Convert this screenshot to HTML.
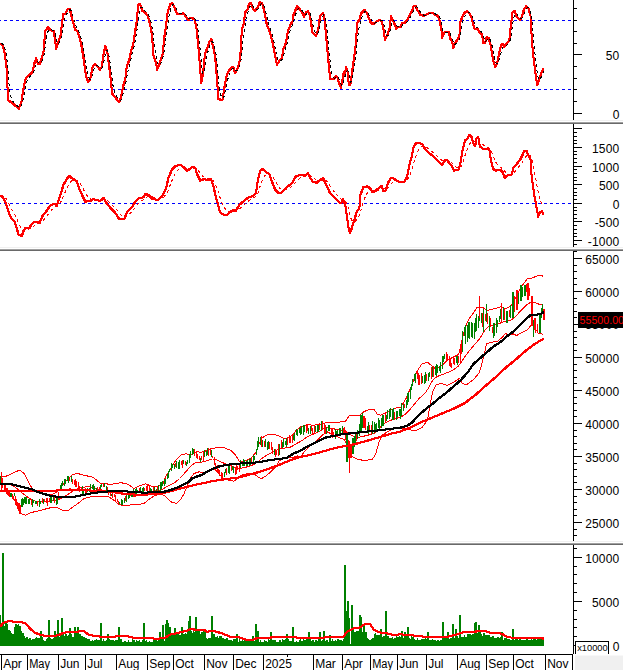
<!DOCTYPE html>
<html><head><meta charset="utf-8"><title>Chart</title>
<style>html,body{margin:0;padding:0;background:#fff}svg{display:block}text{font-family:"Liberation Sans",Arial,sans-serif}</style>
</head><body>
<svg width="623" height="670" viewBox="0 0 623 670" shape-rendering="crispEdges">
<rect width="623" height="670" fill="#fff"/>
<path d="M0,20.5 H571" stroke="#0000ff" stroke-width="1" stroke-dasharray="3,3" stroke-dashoffset="2" fill="none"/>
<path d="M0,89.5 H571" stroke="#0000ff" stroke-width="1" stroke-dasharray="3,3" stroke-dashoffset="2" fill="none"/>
<path d="M-0.5,43.0 L1.5,43.8 L3.7,49.7 L5.9,64.7 L7.0,86.5 L7.9,99.8 L11.2,102.3 L14.5,104.9 L18.2,108.2 L20.9,101.5 L22.9,88.1 L25.4,77.3 L28.8,74.8 L32.1,71.4 L33.8,63.0 L35.5,58.4 L37.6,63.0 L39.6,63.0 L43.0,51.3 L44.7,30.4 L47.7,26.6 L49.7,29.6 L53.0,30.4 L54.7,39.6 L55.5,49.3 L57.2,43.0 L60.0,35.5 L62.7,13.7 L65.1,12.9 L67.2,8.2 L69.4,8.7 L71.4,17.9 L74.8,29.3 L77.3,31.3 L80.6,43.0 L83.1,58.0 L85.6,76.4 L87.8,81.4 L89.8,78.1 L92.3,65.6 L94.8,63.9 L97.3,66.4 L99.5,68.9 L101.2,66.4 L103.2,53.0 L104.9,45.5 L107.0,53.0 L108.7,66.4 L110.4,79.8 L111.5,93.1 L114.6,96.5 L117.1,99.8 L118.7,101.8 L120.4,96.5 L122.9,84.8 L124.9,78.1 L126.3,65.6 L128.8,59.7 L130.4,50.5 L132.9,43.0 L134.6,31.3 L136.6,17.9 L137.6,4.5 L139.6,3.2 L141.6,10.4 L144.7,12.0 L147.2,15.4 L149.7,24.6 L151.3,32.9 L153.0,54.7 L155.5,63.0 L156.7,68.1 L158.9,63.9 L162.2,53.0 L163.9,36.3 L165.6,24.6 L167.2,11.2 L169.7,3.7 L171.7,2.5 L173.9,7.0 L176.8,13.7 L179.8,13.2 L183.1,12.9 L185.6,16.2 L187.8,19.9 L189.8,17.1 L192.3,17.9 L194.5,19.6 L196.2,29.6 L198.2,49.7 L199.8,69.7 L200.7,83.1 L202.5,73.1 L204.5,53.0 L207.0,47.2 L208.7,41.3 L210.9,38.8 L212.9,48.0 L214.5,54.7 L216.2,74.8 L217.9,98.2 L220.4,99.5 L222.1,99.0 L223.7,88.1 L226.3,74.8 L228.8,69.7 L231.3,66.4 L232.9,67.2 L234.6,72.2 L237.1,68.1 L239.6,58.9 L241.3,29.6 L243.3,22.9 L244.7,12.0 L247.2,8.7 L248.3,3.2 L250.5,2.8 L252.7,8.7 L254.7,10.4 L257.2,7.0 L259.4,1.5 L261.7,2.8 L263.9,11.2 L266.4,24.6 L269.4,31.3 L272.2,43.0 L274.8,56.4 L276.4,63.9 L278.9,60.5 L281.4,57.2 L282.8,48.8 L285.6,42.1 L287.3,31.3 L289.8,24.6 L292.3,20.4 L293.1,13.7 L296.5,6.2 L299.8,9.5 L301.5,12.0 L303.7,16.2 L305.4,12.0 L307.5,10.4 L309.5,15.4 L312.0,32.1 L315.4,35.5 L317.6,29.6 L319.6,15.4 L322.6,12.5 L324.2,19.6 L326.3,43.0 L328.3,64.7 L329.6,78.1 L332.9,78.9 L335.5,75.6 L337.1,77.3 L338.8,83.9 L340.5,87.3 L342.1,78.1 L343.3,71.4 L344.3,76.4 L345.5,66.4 L347.2,71.4 L348.3,83.9 L349.7,84.8 L351.0,76.4 L352.7,63.0 L354.7,49.7 L356.0,32.9 L356.7,22.1 L358.9,19.6 L360.5,12.9 L363.9,9.5 L366.1,12.0 L368.1,17.1 L370.6,22.9 L373.1,23.2 L376.4,20.9 L378.9,19.6 L381.4,20.4 L383.1,29.6 L384.5,38.8 L386.5,35.5 L389.0,27.9 L390.6,16.2 L393.1,21.2 L395.7,27.9 L398.2,26.3 L400.0,26.8 L401.5,22.1 L403.7,22.9 L406.2,20.4 L408.7,15.4 L411.2,11.2 L412.9,6.2 L414.9,4.9 L417.1,9.9 L419.9,14.2 L422.9,15.4 L426.3,13.7 L429.6,12.5 L432.6,12.9 L435.5,14.6 L437.6,15.4 L439.3,21.2 L441.0,30.4 L441.6,36.3 L443.8,32.1 L446.3,31.3 L448.3,31.6 L449.7,38.0 L451.7,41.3 L452.7,48.3 L454.3,43.0 L457.2,38.8 L458.9,35.5 L460.0,21.2 L462.2,15.4 L464.4,12.0 L466.4,10.9 L468.9,12.9 L471.1,17.1 L472.7,24.6 L474.4,28.8 L476.8,27.6 L478.9,31.3 L481.4,33.8 L482.8,42.1 L484.8,42.1 L486.1,36.3 L488.1,37.6 L489.8,43.0 L491.8,54.7 L493.5,63.0 L494.8,66.4 L496.8,62.2 L499.0,51.3 L500.7,44.7 L502.1,43.3 L503.7,46.3 L506.3,43.0 L508.8,39.6 L510.4,24.6 L512.1,11.2 L514.3,10.9 L516.3,16.2 L519.6,19.2 L521.3,16.2 L523.3,9.5 L525.5,5.9 L528.0,7.9 L530.0,15.4 L531.0,32.9 L532.2,49.7 L533.8,63.0 L535.5,76.4 L536.7,84.8 L538.4,79.8 L540.5,73.1 L542.7,68.1M0.5,43.0 L2.5,43.8 L4.7,49.7 L6.9,64.7 L8.0,86.5 L8.9,99.8 L12.2,102.3 L15.5,104.9 L19.2,108.2 L21.9,101.5 L23.9,88.1 L26.4,77.3 L29.8,74.8 L33.1,71.4 L34.8,63.0 L36.5,58.4 L38.6,63.0 L40.6,63.0 L44.0,51.3 L45.7,30.4 L48.7,26.6 L50.7,29.6 L54.0,30.4 L55.7,39.6 L56.5,49.3 L58.2,43.0 L61.0,35.5 L63.7,13.7 L66.1,12.9 L68.2,8.2 L70.4,8.7 L72.4,17.9 L75.8,29.3 L78.3,31.3 L81.6,43.0 L84.1,58.0 L86.6,76.4 L88.8,81.4 L90.8,78.1 L93.3,65.6 L95.8,63.9 L98.3,66.4 L100.5,68.9 L102.2,66.4 L104.2,53.0 L105.9,45.5 L108.0,53.0 L109.7,66.4 L111.4,79.8 L112.5,93.1 L115.6,96.5 L118.1,99.8 L119.7,101.8 L121.4,96.5 L123.9,84.8 L125.9,78.1 L127.3,65.6 L129.8,59.7 L131.4,50.5 L133.9,43.0 L135.6,31.3 L137.6,17.9 L138.6,4.5 L140.6,3.2 L142.6,10.4 L145.7,12.0 L148.2,15.4 L150.7,24.6 L152.3,32.9 L154.0,54.7 L156.5,63.0 L157.7,68.1 L159.9,63.9 L163.2,53.0 L164.9,36.3 L166.6,24.6 L168.2,11.2 L170.7,3.7 L172.7,2.5 L174.9,7.0 L177.8,13.7 L180.8,13.2 L184.1,12.9 L186.6,16.2 L188.8,19.9 L190.8,17.1 L193.3,17.9 L195.5,19.6 L197.2,29.6 L199.2,49.7 L200.8,69.7 L201.7,83.1 L203.5,73.1 L205.5,53.0 L208.0,47.2 L209.7,41.3 L211.9,38.8 L213.9,48.0 L215.5,54.7 L217.2,74.8 L218.9,98.2 L221.4,99.5 L223.1,99.0 L224.7,88.1 L227.3,74.8 L229.8,69.7 L232.3,66.4 L233.9,67.2 L235.6,72.2 L238.1,68.1 L240.6,58.9 L242.3,29.6 L244.3,22.9 L245.7,12.0 L248.2,8.7 L249.3,3.2 L251.5,2.8 L253.7,8.7 L255.7,10.4 L258.2,7.0 L260.4,1.5 L262.7,2.8 L264.9,11.2 L267.4,24.6 L270.4,31.3 L273.2,43.0 L275.8,56.4 L277.4,63.9 L279.9,60.5 L282.4,57.2 L283.8,48.8 L286.6,42.1 L288.3,31.3 L290.8,24.6 L293.3,20.4 L294.1,13.7 L297.5,6.2 L300.8,9.5 L302.5,12.0 L304.7,16.2 L306.4,12.0 L308.5,10.4 L310.5,15.4 L313.0,32.1 L316.4,35.5 L318.6,29.6 L320.6,15.4 L323.6,12.5 L325.2,19.6 L327.3,43.0 L329.3,64.7 L330.6,78.1 L333.9,78.9 L336.5,75.6 L338.1,77.3 L339.8,83.9 L341.5,87.3 L343.1,78.1 L344.3,71.4 L345.3,76.4 L346.5,66.4 L348.2,71.4 L349.3,83.9 L350.7,84.8 L352.0,76.4 L353.7,63.0 L355.7,49.7 L357.0,32.9 L357.7,22.1 L359.9,19.6 L361.5,12.9 L364.9,9.5 L367.1,12.0 L369.1,17.1 L371.6,22.9 L374.1,23.2 L377.4,20.9 L379.9,19.6 L382.4,20.4 L384.1,29.6 L385.5,38.8 L387.5,35.5 L390.0,27.9 L391.6,16.2 L394.1,21.2 L396.7,27.9 L399.2,26.3 L401.0,26.8 L402.5,22.1 L404.7,22.9 L407.2,20.4 L409.7,15.4 L412.2,11.2 L413.9,6.2 L415.9,4.9 L418.1,9.9 L420.9,14.2 L423.9,15.4 L427.3,13.7 L430.6,12.5 L433.6,12.9 L436.5,14.6 L438.6,15.4 L440.3,21.2 L442.0,30.4 L442.6,36.3 L444.8,32.1 L447.3,31.3 L449.3,31.6 L450.7,38.0 L452.7,41.3 L453.7,48.3 L455.3,43.0 L458.2,38.8 L459.9,35.5 L461.0,21.2 L463.2,15.4 L465.4,12.0 L467.4,10.9 L469.9,12.9 L472.1,17.1 L473.7,24.6 L475.4,28.8 L477.8,27.6 L479.9,31.3 L482.4,33.8 L483.8,42.1 L485.8,42.1 L487.1,36.3 L489.1,37.6 L490.8,43.0 L492.8,54.7 L494.5,63.0 L495.8,66.4 L497.8,62.2 L500.0,51.3 L501.7,44.7 L503.1,43.3 L504.7,46.3 L507.3,43.0 L509.8,39.6 L511.4,24.6 L513.1,11.2 L515.3,10.9 L517.3,16.2 L520.6,19.2 L522.3,16.2 L524.3,9.5 L526.5,5.9 L529.0,7.9 L531.0,15.4 L532.0,32.9 L533.2,49.7 L534.8,63.0 L536.5,76.4 L537.7,84.8 L539.4,79.8 L541.5,73.1 L543.7,68.1M-0.5,44.0 L1.5,44.8 L3.7,50.7 L5.9,65.7 L7.0,87.5 L7.9,100.8 L11.2,103.3 L14.5,105.9 L18.2,109.2 L20.9,102.5 L22.9,89.1 L25.4,78.3 L28.8,75.8 L32.1,72.4 L33.8,64.0 L35.5,59.4 L37.6,64.0 L39.6,64.0 L43.0,52.3 L44.7,31.4 L47.7,27.6 L49.7,30.6 L53.0,31.4 L54.7,40.6 L55.5,50.3 L57.2,44.0 L60.0,36.5 L62.7,14.7 L65.1,13.9 L67.2,9.2 L69.4,9.7 L71.4,18.9 L74.8,30.3 L77.3,32.3 L80.6,44.0 L83.1,59.0 L85.6,77.4 L87.8,82.4 L89.8,79.1 L92.3,66.6 L94.8,64.9 L97.3,67.4 L99.5,69.9 L101.2,67.4 L103.2,54.0 L104.9,46.5 L107.0,54.0 L108.7,67.4 L110.4,80.8 L111.5,94.1 L114.6,97.5 L117.1,100.8 L118.7,102.8 L120.4,97.5 L122.9,85.8 L124.9,79.1 L126.3,66.6 L128.8,60.7 L130.4,51.5 L132.9,44.0 L134.6,32.3 L136.6,18.9 L137.6,5.5 L139.6,4.2 L141.6,11.4 L144.7,13.0 L147.2,16.4 L149.7,25.6 L151.3,33.9 L153.0,55.7 L155.5,64.0 L156.7,69.1 L158.9,64.9 L162.2,54.0 L163.9,37.3 L165.6,25.6 L167.2,12.2 L169.7,4.7 L171.7,3.5 L173.9,8.0 L176.8,14.7 L179.8,14.2 L183.1,13.9 L185.6,17.2 L187.8,20.9 L189.8,18.1 L192.3,18.9 L194.5,20.6 L196.2,30.6 L198.2,50.7 L199.8,70.7 L200.7,84.1 L202.5,74.1 L204.5,54.0 L207.0,48.2 L208.7,42.3 L210.9,39.8 L212.9,49.0 L214.5,55.7 L216.2,75.8 L217.9,99.2 L220.4,100.5 L222.1,100.0 L223.7,89.1 L226.3,75.8 L228.8,70.7 L231.3,67.4 L232.9,68.2 L234.6,73.2 L237.1,69.1 L239.6,59.9 L241.3,30.6 L243.3,23.9 L244.7,13.0 L247.2,9.7 L248.3,4.2 L250.5,3.8 L252.7,9.7 L254.7,11.4 L257.2,8.0 L259.4,2.5 L261.7,3.8 L263.9,12.2 L266.4,25.6 L269.4,32.3 L272.2,44.0 L274.8,57.4 L276.4,64.9 L278.9,61.5 L281.4,58.2 L282.8,49.8 L285.6,43.1 L287.3,32.3 L289.8,25.6 L292.3,21.4 L293.1,14.7 L296.5,7.2 L299.8,10.5 L301.5,13.0 L303.7,17.2 L305.4,13.0 L307.5,11.4 L309.5,16.4 L312.0,33.1 L315.4,36.5 L317.6,30.6 L319.6,16.4 L322.6,13.5 L324.2,20.6 L326.3,44.0 L328.3,65.7 L329.6,79.1 L332.9,79.9 L335.5,76.6 L337.1,78.3 L338.8,84.9 L340.5,88.3 L342.1,79.1 L343.3,72.4 L344.3,77.4 L345.5,67.4 L347.2,72.4 L348.3,84.9 L349.7,85.8 L351.0,77.4 L352.7,64.0 L354.7,50.7 L356.0,33.9 L356.7,23.1 L358.9,20.6 L360.5,13.9 L363.9,10.5 L366.1,13.0 L368.1,18.1 L370.6,23.9 L373.1,24.2 L376.4,21.9 L378.9,20.6 L381.4,21.4 L383.1,30.6 L384.5,39.8 L386.5,36.5 L389.0,28.9 L390.6,17.2 L393.1,22.2 L395.7,28.9 L398.2,27.3 L400.0,27.8 L401.5,23.1 L403.7,23.9 L406.2,21.4 L408.7,16.4 L411.2,12.2 L412.9,7.2 L414.9,5.9 L417.1,10.9 L419.9,15.2 L422.9,16.4 L426.3,14.7 L429.6,13.5 L432.6,13.9 L435.5,15.6 L437.6,16.4 L439.3,22.2 L441.0,31.4 L441.6,37.3 L443.8,33.1 L446.3,32.3 L448.3,32.6 L449.7,39.0 L451.7,42.3 L452.7,49.3 L454.3,44.0 L457.2,39.8 L458.9,36.5 L460.0,22.2 L462.2,16.4 L464.4,13.0 L466.4,11.9 L468.9,13.9 L471.1,18.1 L472.7,25.6 L474.4,29.8 L476.8,28.6 L478.9,32.3 L481.4,34.8 L482.8,43.1 L484.8,43.1 L486.1,37.3 L488.1,38.6 L489.8,44.0 L491.8,55.7 L493.5,64.0 L494.8,67.4 L496.8,63.2 L499.0,52.3 L500.7,45.7 L502.1,44.3 L503.7,47.3 L506.3,44.0 L508.8,40.6 L510.4,25.6 L512.1,12.2 L514.3,11.9 L516.3,17.2 L519.6,20.2 L521.3,17.2 L523.3,10.5 L525.5,6.9 L528.0,8.9 L530.0,16.4 L531.0,33.9 L532.2,50.7 L533.8,64.0 L535.5,77.4 L536.7,85.8 L538.4,80.8 L540.5,74.1 L542.7,69.1M0.5,44.0 L2.5,44.8 L4.7,50.7 L6.9,65.7 L8.0,87.5 L8.9,100.8 L12.2,103.3 L15.5,105.9 L19.2,109.2 L21.9,102.5 L23.9,89.1 L26.4,78.3 L29.8,75.8 L33.1,72.4 L34.8,64.0 L36.5,59.4 L38.6,64.0 L40.6,64.0 L44.0,52.3 L45.7,31.4 L48.7,27.6 L50.7,30.6 L54.0,31.4 L55.7,40.6 L56.5,50.3 L58.2,44.0 L61.0,36.5 L63.7,14.7 L66.1,13.9 L68.2,9.2 L70.4,9.7 L72.4,18.9 L75.8,30.3 L78.3,32.3 L81.6,44.0 L84.1,59.0 L86.6,77.4 L88.8,82.4 L90.8,79.1 L93.3,66.6 L95.8,64.9 L98.3,67.4 L100.5,69.9 L102.2,67.4 L104.2,54.0 L105.9,46.5 L108.0,54.0 L109.7,67.4 L111.4,80.8 L112.5,94.1 L115.6,97.5 L118.1,100.8 L119.7,102.8 L121.4,97.5 L123.9,85.8 L125.9,79.1 L127.3,66.6 L129.8,60.7 L131.4,51.5 L133.9,44.0 L135.6,32.3 L137.6,18.9 L138.6,5.5 L140.6,4.2 L142.6,11.4 L145.7,13.0 L148.2,16.4 L150.7,25.6 L152.3,33.9 L154.0,55.7 L156.5,64.0 L157.7,69.1 L159.9,64.9 L163.2,54.0 L164.9,37.3 L166.6,25.6 L168.2,12.2 L170.7,4.7 L172.7,3.5 L174.9,8.0 L177.8,14.7 L180.8,14.2 L184.1,13.9 L186.6,17.2 L188.8,20.9 L190.8,18.1 L193.3,18.9 L195.5,20.6 L197.2,30.6 L199.2,50.7 L200.8,70.7 L201.7,84.1 L203.5,74.1 L205.5,54.0 L208.0,48.2 L209.7,42.3 L211.9,39.8 L213.9,49.0 L215.5,55.7 L217.2,75.8 L218.9,99.2 L221.4,100.5 L223.1,100.0 L224.7,89.1 L227.3,75.8 L229.8,70.7 L232.3,67.4 L233.9,68.2 L235.6,73.2 L238.1,69.1 L240.6,59.9 L242.3,30.6 L244.3,23.9 L245.7,13.0 L248.2,9.7 L249.3,4.2 L251.5,3.8 L253.7,9.7 L255.7,11.4 L258.2,8.0 L260.4,2.5 L262.7,3.8 L264.9,12.2 L267.4,25.6 L270.4,32.3 L273.2,44.0 L275.8,57.4 L277.4,64.9 L279.9,61.5 L282.4,58.2 L283.8,49.8 L286.6,43.1 L288.3,32.3 L290.8,25.6 L293.3,21.4 L294.1,14.7 L297.5,7.2 L300.8,10.5 L302.5,13.0 L304.7,17.2 L306.4,13.0 L308.5,11.4 L310.5,16.4 L313.0,33.1 L316.4,36.5 L318.6,30.6 L320.6,16.4 L323.6,13.5 L325.2,20.6 L327.3,44.0 L329.3,65.7 L330.6,79.1 L333.9,79.9 L336.5,76.6 L338.1,78.3 L339.8,84.9 L341.5,88.3 L343.1,79.1 L344.3,72.4 L345.3,77.4 L346.5,67.4 L348.2,72.4 L349.3,84.9 L350.7,85.8 L352.0,77.4 L353.7,64.0 L355.7,50.7 L357.0,33.9 L357.7,23.1 L359.9,20.6 L361.5,13.9 L364.9,10.5 L367.1,13.0 L369.1,18.1 L371.6,23.9 L374.1,24.2 L377.4,21.9 L379.9,20.6 L382.4,21.4 L384.1,30.6 L385.5,39.8 L387.5,36.5 L390.0,28.9 L391.6,17.2 L394.1,22.2 L396.7,28.9 L399.2,27.3 L401.0,27.8 L402.5,23.1 L404.7,23.9 L407.2,21.4 L409.7,16.4 L412.2,12.2 L413.9,7.2 L415.9,5.9 L418.1,10.9 L420.9,15.2 L423.9,16.4 L427.3,14.7 L430.6,13.5 L433.6,13.9 L436.5,15.6 L438.6,16.4 L440.3,22.2 L442.0,31.4 L442.6,37.3 L444.8,33.1 L447.3,32.3 L449.3,32.6 L450.7,39.0 L452.7,42.3 L453.7,49.3 L455.3,44.0 L458.2,39.8 L459.9,36.5 L461.0,22.2 L463.2,16.4 L465.4,13.0 L467.4,11.9 L469.9,13.9 L472.1,18.1 L473.7,25.6 L475.4,29.8 L477.8,28.6 L479.9,32.3 L482.4,34.8 L483.8,43.1 L485.8,43.1 L487.1,37.3 L489.1,38.6 L490.8,44.0 L492.8,55.7 L494.5,64.0 L495.8,67.4 L497.8,63.2 L500.0,52.3 L501.7,45.7 L503.1,44.3 L504.7,47.3 L507.3,44.0 L509.8,40.6 L511.4,25.6 L513.1,12.2 L515.3,11.9 L517.3,17.2 L520.6,20.2 L522.3,17.2 L524.3,10.5 L526.5,6.9 L529.0,8.9 L531.0,16.4 L532.0,33.9 L533.2,50.7 L534.8,64.0 L536.5,77.4 L537.7,85.8 L539.4,80.8 L541.5,74.1 L543.7,69.1" stroke="#ff0000" stroke-width="1" fill="none"/>
<path d="M0.7,43.5 L1.7,43.7 L2.7,44.0 L3.7,45.5 L4.7,47.6 L5.7,51.6 L6.7,57.0 L7.7,67.1 L8.7,80.7 L9.7,90.7 L10.7,96.1 L11.7,99.2 L12.7,101.1 L13.7,102.5 L14.7,103.5 L15.7,104.5 L16.7,105.4 L17.7,106.3 L18.7,107.2 L19.7,107.6 L20.7,106.5 L21.7,104.8 L22.7,101.4 L23.7,96.3 L24.7,91.2 L25.7,86.4 L26.7,82.1 L27.7,79.5 L28.7,77.9 L29.7,76.7 L30.7,75.6 L31.7,74.6 L32.7,73.6 L33.7,71.7 L34.7,68.4 L35.7,65.0 L36.7,61.9 L37.7,61.5 L38.7,62.4 L39.7,62.9 L40.7,63.2 L41.7,61.8 L42.7,59.4 L43.7,56.5 L44.7,51.1 L45.7,42.2 L46.7,36.0 L47.7,32.3 L48.7,29.8 L49.7,29.1 L50.7,29.4 L51.7,29.9 L52.7,30.2 L53.7,30.5 L54.7,32.0 L55.7,35.5 L56.7,42.7 L57.7,44.4 L58.7,43.5 L59.7,41.8 L60.7,39.6 L61.7,35.8 L62.7,29.8 L63.7,22.8 L64.7,18.4 L65.7,16.0 L66.7,14.2 L67.7,12.3 L68.7,10.5 L69.7,9.8 L70.7,9.7 L71.7,12.0 L72.7,15.4 L73.7,18.7 L74.7,22.1 L75.7,25.4 L76.7,27.9 L77.7,29.5 L78.7,31.0 L79.7,33.5 L80.7,36.6 L81.7,39.9 L82.7,44.4 L83.7,49.6 L84.7,55.5 L85.7,62.2 L86.7,69.2 L87.7,74.1 L88.7,77.6 L89.7,79.2 L90.7,79.1 L91.7,77.1 L92.7,73.6 L93.7,69.8 L94.7,67.5 L95.7,66.1 L96.7,65.6 L97.7,65.8 L98.7,66.5 L99.7,67.4 L100.7,68.4 L101.7,68.2 L102.7,66.5 L103.7,62.4 L104.7,57.3 L105.7,52.5 L106.7,50.3 L107.7,51.0 L108.7,54.2 L109.7,59.8 L110.7,66.5 L111.7,74.0 L112.7,83.8 L113.7,89.2 L114.7,92.5 L115.7,94.7 L116.7,96.4 L117.7,98.0 L118.7,99.4 L119.7,100.7 L120.7,100.3 L121.7,98.4 L122.7,95.1 L123.7,91.1 L124.7,87.2 L125.7,83.6 L126.7,78.4 L127.7,72.0 L128.7,67.6 L129.7,64.3 L130.7,60.2 L131.7,55.5 L132.7,51.6 L133.7,48.1 L134.7,43.8 L135.7,38.1 L136.7,31.9 L137.7,25.5 L138.7,15.9 L139.7,10.2 L140.7,7.0 L141.7,7.0 L142.7,8.7 L143.7,10.1 L144.7,11.0 L145.7,11.7 L146.7,12.6 L147.7,13.8 L148.7,15.4 L149.7,18.0 L150.7,21.2 L151.7,25.2 L152.7,30.6 L153.7,39.7 L154.7,48.3 L155.7,54.2 L156.7,58.9 L157.7,63.3 L158.7,65.2 L159.7,65.2 L160.7,63.8 L161.7,61.5 L162.7,58.6 L163.7,54.6 L164.7,47.7 L165.7,40.2 L166.7,33.0 L167.7,25.3 L168.7,18.0 L169.7,12.9 L170.7,8.9 L171.7,6.3 L172.7,4.7 L173.7,4.7 L174.7,5.7 L175.7,7.3 L176.7,9.2 L177.7,11.4 L178.7,12.7 L179.7,13.3 L180.7,13.5 L181.7,13.6 L182.7,13.6 L183.7,13.5 L184.7,13.7 L185.7,14.5 L186.7,15.5 L187.7,16.9 L188.7,18.4 L189.7,18.9 L190.7,18.5 L191.7,18.1 L192.7,18.1 L193.7,18.3 L194.7,18.8 L195.7,19.5 L196.7,22.7 L197.7,27.9 L198.7,35.5 L199.7,44.7 L200.7,55.6 L201.7,68.1 L202.7,73.6 L203.7,73.6 L204.7,68.6 L205.7,61.0 L206.7,56.1 L207.7,52.5 L208.7,49.2 L209.7,45.9 L210.7,43.4 L211.7,41.6 L212.7,41.8 L213.7,44.2 L214.7,47.6 L215.7,51.4 L216.7,59.2 L217.7,69.3 L218.7,81.3 L219.7,90.1 L220.7,94.8 L221.7,97.4 L222.7,98.5 L223.7,97.7 L224.7,93.8 L225.7,89.2 L226.7,84.3 L227.7,79.6 L228.7,76.2 L229.7,73.5 L230.7,71.4 L231.7,69.7 L232.7,68.3 L233.7,67.9 L234.7,68.7 L235.7,70.5 L236.7,70.9 L237.7,70.2 L238.7,68.7 L239.7,66.1 L240.7,62.9 L241.7,53.4 L242.7,41.4 L243.7,33.7 L244.7,27.8 L245.7,20.9 L246.7,16.2 L247.7,13.2 L248.7,10.4 L249.7,7.0 L250.7,5.3 L251.7,4.3 L252.7,5.1 L253.7,6.9 L254.7,8.4 L255.7,9.6 L256.7,9.7 L257.7,9.1 L258.7,7.9 L259.7,6.1 L260.7,4.1 L261.7,3.3 L262.7,3.3 L263.7,4.8 L264.7,7.5 L265.7,11.2 L266.7,15.7 L267.7,20.5 L268.7,24.0 L269.7,26.9 L270.7,29.6 L271.7,33.0 L272.7,36.8 L273.7,40.9 L274.7,45.6 L275.7,50.5 L276.7,55.3 L277.7,59.8 L278.7,61.3 L279.7,61.4 L280.7,60.8 L281.7,59.9 L282.7,58.5 L283.7,54.8 L284.7,51.2 L285.7,48.2 L286.7,45.5 L287.7,41.2 L288.7,36.2 L289.7,32.4 L290.7,29.2 L291.7,26.5 L292.7,24.4 L293.7,21.8 L294.7,17.6 L295.7,14.3 L296.7,11.6 L297.7,9.2 L298.7,8.4 L299.7,8.6 L300.7,9.1 L301.7,10.1 L302.7,11.3 L303.7,12.8 L304.7,14.6 L305.7,14.7 L306.7,13.5 L307.7,12.6 L308.7,11.8 L309.7,12.6 L310.7,14.2 L311.7,18.4 L312.7,23.8 L313.7,28.5 L314.7,31.3 L315.7,33.2 L316.7,34.5 L317.7,33.8 L318.7,32.1 L319.7,27.9 L320.7,22.2 L321.7,18.6 L322.7,16.4 L323.7,14.7 L324.7,15.9 L325.7,19.7 L326.7,27.1 L327.7,36.4 L328.7,46.5 L329.7,56.9 L330.7,67.2 L331.7,73.0 L332.7,76.0 L333.7,77.7 L334.7,78.2 L335.7,77.8 L336.7,76.9 L337.7,77.0 L338.7,78.2 L339.7,80.7 L340.7,83.3 L341.7,85.5 L342.7,83.8 L343.7,80.1 L344.7,76.5 L345.7,75.9 L346.7,71.4 L347.7,70.6 L348.7,73.0 L349.7,78.7 L350.7,82.0 L351.7,81.0 L352.7,77.0 L353.7,71.0 L354.7,64.6 L355.7,58.1 L356.7,49.0 L357.7,37.3 L358.7,29.5 L359.7,25.0 L360.7,21.3 L361.7,17.4 L362.7,14.9 L363.7,13.1 L364.7,11.8 L365.7,11.2 L366.7,11.5 L367.7,12.5 L368.7,14.3 L369.7,16.4 L370.7,18.6 L371.7,20.9 L372.7,22.2 L373.7,22.9 L374.7,23.2 L375.7,22.9 L376.7,22.5 L377.7,21.9 L378.7,21.4 L379.7,20.8 L380.7,20.6 L381.7,20.6 L382.7,21.0 L383.7,23.9 L384.7,28.3 L385.7,33.8 L386.7,35.7 L387.7,35.9 L388.7,34.4 L389.7,32.2 L390.7,28.5 L391.7,22.9 L392.7,20.7 L393.7,20.6 L394.7,21.7 L395.7,23.5 L396.7,25.7 L397.7,26.8 L398.7,27.0 L399.7,27.0 L400.7,27.1 L401.7,26.4 L402.7,24.5 L403.7,23.7 L404.7,23.5 L405.7,23.1 L406.7,22.3 L407.7,21.3 L408.7,19.8 L409.7,18.1 L410.7,16.3 L411.7,14.6 L412.7,12.7 L413.7,10.3 L414.7,8.3 L415.7,7.0 L416.7,6.9 L417.7,8.0 L418.7,9.5 L419.7,11.0 L420.7,12.6 L421.7,13.7 L422.7,14.5 L423.7,15.1 L424.7,15.4 L425.7,15.2 L426.7,14.9 L427.7,14.5 L428.7,14.1 L429.7,13.8 L430.7,13.4 L431.7,13.3 L432.7,13.3 L433.7,13.3 L434.7,13.6 L435.7,14.1 L436.7,14.6 L437.7,15.0 L438.7,15.4 L439.7,17.2 L440.7,20.0 L441.7,24.1 L442.7,30.0 L443.7,32.5 L444.7,32.8 L445.7,32.6 L446.7,32.3 L447.7,32.1 L448.7,32.0 L449.7,32.5 L450.7,35.1 L451.7,37.4 L452.7,39.5 L453.7,43.4 L454.7,44.8 L455.7,44.0 L456.7,42.9 L457.7,41.6 L458.7,40.2 L459.7,38.5 L460.7,33.3 L461.7,26.9 L462.7,22.3 L463.7,18.9 L464.7,16.4 L465.7,14.4 L466.7,13.2 L467.7,12.3 L468.7,12.3 L469.7,12.7 L470.7,13.6 L471.7,15.0 L472.7,17.3 L473.7,20.7 L474.7,23.9 L475.7,26.6 L476.7,27.7 L477.7,28.0 L478.7,28.6 L479.7,29.9 L480.7,31.1 L481.7,32.3 L482.7,33.6 L483.7,37.2 L484.7,39.9 L485.7,41.3 L486.7,40.4 L487.7,38.7 L488.7,38.2 L489.7,38.8 L490.7,40.7 L491.7,44.1 L492.7,48.8 L493.7,53.7 L494.7,58.6 L495.7,62.4 L496.7,63.9 L497.7,63.6 L498.7,61.4 L499.7,57.8 L500.7,53.9 L501.7,49.9 L502.7,47.2 L503.7,45.9 L504.7,46.1 L505.7,46.0 L506.7,45.2 L507.7,44.2 L508.7,43.1 L509.7,41.8 L510.7,37.7 L511.7,31.0 L512.7,23.7 L513.7,17.7 L514.7,14.6 L515.7,13.3 L516.7,13.9 L517.7,15.4 L518.7,16.6 L519.7,17.6 L520.7,18.6 L521.7,18.4 L522.7,17.2 L523.7,14.9 L524.7,12.3 L525.7,10.2 L526.7,8.3 L527.7,7.7 L528.7,7.9 L529.7,9.1 L530.7,11.5 L531.7,18.1 L532.7,29.2 L533.7,41.0 L534.7,51.0 L535.7,60.0 L536.7,68.5 L537.7,76.2 L538.7,79.6 L539.7,79.8 L540.7,78.3 L541.7,75.9 L542.7,73.6 L543.7,71.3" stroke="#000" stroke-width="1" stroke-dasharray="3,3" fill="none"/>
<path d="M0,203.5 H571" stroke="#0000ff" stroke-width="1" stroke-dasharray="3,3" stroke-dashoffset="2" fill="none"/>
<path d="M0.5,195.7 L1.5,195.8 L2.5,195.8 L3.5,196.2 L4.5,196.9 L5.5,197.9 L6.5,199.1 L7.5,200.7 L8.5,202.6 L9.5,204.7 L10.5,206.8 L11.5,208.9 L12.5,211.0 L13.5,212.8 L14.5,214.4 L15.5,216.1 L16.5,218.1 L17.5,220.4 L18.5,222.8 L19.5,225.3 L20.5,227.3 L21.5,229.0 L22.5,230.2 L23.5,230.8 L24.5,230.8 L25.5,230.3 L26.5,229.9 L27.5,229.5 L28.5,229.1 L29.5,228.8 L30.5,228.4 L31.5,227.8 L32.5,227.1 L33.5,226.3 L34.5,225.5 L35.5,224.8 L36.5,224.2 L37.5,223.7 L38.5,223.4 L39.5,223.4 L40.5,223.0 L41.5,222.3 L42.5,221.3 L43.5,220.1 L44.5,218.9 L45.5,217.7 L46.5,216.5 L47.5,215.2 L48.5,213.9 L49.5,212.6 L50.5,211.3 L51.5,210.1 L52.5,209.1 L53.5,208.1 L54.5,207.4 L55.5,206.8 L56.5,206.4 L57.5,206.0 L58.5,205.2 L59.5,204.0 L60.5,202.5 L61.5,200.6 L62.5,198.4 L63.5,196.0 L64.5,193.6 L65.5,191.4 L66.5,189.2 L67.5,187.1 L68.5,185.1 L69.5,183.3 L70.5,181.9 L71.5,181.0 L72.5,180.5 L73.5,180.2 L74.5,180.1 L75.5,180.1 L76.5,180.3 L77.5,180.6 L78.5,181.4 L79.5,182.7 L80.5,184.2 L81.5,185.9 L82.5,187.7 L83.5,189.5 L84.5,191.4 L85.5,193.3 L86.5,195.0 L87.5,196.3 L88.5,197.3 L89.5,198.1 L90.5,198.7 L91.5,199.1 L92.5,199.2 L93.5,199.2 L94.5,199.3 L95.5,199.3 L96.5,199.4 L97.5,199.6 L98.5,199.7 L99.5,199.9 L100.5,200.1 L101.5,200.2 L102.5,200.0 L103.5,199.7 L104.5,199.4 L105.5,199.6 L106.5,200.1 L107.5,200.8 L108.5,201.6 L109.5,202.5 L110.5,203.5 L111.5,204.5 L112.5,205.5 L113.5,206.5 L114.5,207.4 L115.5,208.5 L116.5,209.6 L117.5,210.8 L118.5,212.1 L119.5,213.4 L120.5,214.5 L121.5,215.4 L122.5,216.2 L123.5,216.8 L124.5,217.2 L125.5,217.2 L126.5,216.6 L127.5,215.8 L128.5,214.8 L129.5,213.9 L130.5,213.0 L131.5,212.0 L132.5,211.0 L133.5,209.9 L134.5,208.7 L135.5,207.4 L136.5,206.1 L137.5,204.8 L138.5,203.7 L139.5,202.6 L140.5,201.6 L141.5,200.8 L142.5,200.2 L143.5,199.6 L144.5,199.0 L145.5,198.2 L146.5,197.4 L147.5,196.8 L148.5,196.4 L149.5,196.2 L150.5,196.3 L151.5,196.6 L152.5,197.0 L153.5,197.4 L154.5,197.7 L155.5,198.0 L156.5,198.3 L157.5,198.6 L158.5,198.8 L159.5,198.8 L160.5,198.7 L161.5,198.4 L162.5,198.0 L163.5,197.3 L164.5,196.3 L165.5,195.1 L166.5,193.8 L167.5,191.9 L168.5,189.5 L169.5,186.9 L170.5,184.3 L171.5,181.8 L172.5,179.4 L173.5,177.2 L174.5,175.3 L175.5,173.5 L176.5,172.0 L177.5,170.7 L178.5,169.7 L179.5,168.8 L180.5,168.0 L181.5,167.5 L182.5,167.2 L183.5,167.1 L184.5,167.2 L185.5,167.5 L186.5,167.9 L187.5,168.5 L188.5,168.8 L189.5,169.1 L190.5,169.1 L191.5,168.9 L192.5,168.6 L193.5,168.2 L194.5,168.0 L195.5,168.0 L196.5,168.5 L197.5,169.6 L198.5,170.9 L199.5,172.3 L200.5,173.9 L201.5,175.2 L202.5,176.1 L203.5,176.8 L204.5,177.3 L205.5,177.7 L206.5,178.1 L207.5,178.5 L208.5,178.8 L209.5,179.0 L210.5,179.0 L211.5,179.1 L212.5,179.7 L213.5,180.8 L214.5,182.5 L215.5,184.6 L216.5,187.1 L217.5,189.9 L218.5,192.8 L219.5,195.9 L220.5,199.1 L221.5,201.9 L222.5,204.3 L223.5,206.3 L224.5,208.0 L225.5,209.3 L226.5,210.4 L227.5,211.3 L228.5,211.9 L229.5,212.1 L230.5,212.2 L231.5,212.0 L232.5,211.8 L233.5,211.5 L234.5,211.3 L235.5,211.2 L236.5,211.1 L237.5,210.7 L238.5,210.0 L239.5,209.1 L240.5,208.1 L241.5,207.2 L242.5,206.3 L243.5,205.4 L244.5,204.5 L245.5,203.6 L246.5,202.8 L247.5,201.9 L248.5,201.1 L249.5,200.3 L250.5,199.7 L251.5,199.1 L252.5,198.5 L253.5,198.0 L254.5,197.4 L255.5,196.8 L256.5,196.0 L257.5,194.1 L258.5,191.3 L259.5,188.2 L260.5,184.9 L261.5,181.9 L262.5,179.4 L263.5,177.4 L264.5,176.0 L265.5,175.0 L266.5,174.5 L267.5,174.1 L268.5,174.0 L269.5,173.9 L270.5,174.3 L271.5,175.2 L272.5,176.5 L273.5,178.0 L274.5,179.8 L275.5,181.7 L276.5,183.4 L277.5,185.0 L278.5,186.5 L279.5,187.8 L280.5,188.8 L281.5,189.5 L282.5,190.1 L283.5,190.3 L284.5,190.2 L285.5,189.9 L286.5,189.5 L287.5,189.0 L288.5,188.5 L289.5,187.9 L290.5,187.2 L291.5,186.6 L292.5,185.9 L293.5,185.0 L294.5,183.8 L295.5,182.6 L296.5,181.4 L297.5,180.3 L298.5,179.3 L299.5,178.6 L300.5,177.9 L301.5,177.4 L302.5,177.0 L303.5,176.6 L304.5,176.3 L305.5,176.0 L306.5,175.7 L307.5,175.4 L308.5,175.0 L309.5,175.1 L310.5,175.5 L311.5,176.2 L312.5,177.1 L313.5,178.0 L314.5,178.8 L315.5,179.5 L316.5,180.1 L317.5,180.6 L318.5,180.8 L319.5,180.8 L320.5,180.6 L321.5,180.4 L322.5,180.0 L323.5,179.7 L324.5,179.8 L325.5,180.2 L326.5,181.0 L327.5,182.1 L328.5,183.4 L329.5,184.9 L330.5,186.5 L331.5,188.0 L332.5,189.4 L333.5,190.8 L334.5,192.0 L335.5,193.2 L336.5,194.4 L337.5,195.6 L338.5,196.7 L339.5,197.7 L340.5,198.7 L341.5,199.6 L342.5,200.0 L343.5,199.8 L344.5,200.2 L345.5,201.0 L346.5,202.8 L347.5,205.5 L348.5,209.2 L349.5,213.5 L350.5,217.2 L351.5,219.8 L352.5,221.4 L353.5,222.0 L354.5,221.8 L355.5,221.0 L356.5,219.7 L357.5,218.0 L358.5,216.5 L359.5,214.9 L360.5,212.1 L361.5,208.4 L362.5,204.9 L363.5,201.5 L364.5,198.6 L365.5,196.3 L366.5,194.4 L367.5,192.8 L368.5,191.7 L369.5,190.8 L370.5,190.3 L371.5,190.2 L372.5,190.5 L373.5,190.7 L374.5,190.9 L375.5,190.9 L376.5,190.9 L377.5,190.6 L378.5,190.3 L379.5,189.8 L380.5,189.2 L381.5,188.6 L382.5,188.3 L383.5,188.6 L384.5,189.0 L385.5,189.5 L386.5,189.4 L387.5,188.6 L388.5,187.5 L389.5,186.2 L390.5,184.9 L391.5,183.5 L392.5,182.4 L393.5,181.6 L394.5,181.1 L395.5,180.8 L396.5,180.7 L397.5,180.8 L398.5,180.9 L399.5,181.0 L400.5,181.2 L401.5,181.3 L402.5,181.4 L403.5,181.5 L404.5,181.5 L405.5,181.3 L406.5,180.9 L407.5,180.1 L408.5,178.5 L409.5,176.1 L410.5,173.4 L411.5,170.5 L412.5,167.4 L413.5,163.9 L414.5,160.3 L415.5,157.2 L416.5,154.4 L417.5,152.1 L418.5,150.2 L419.5,148.8 L420.5,147.6 L421.5,146.9 L422.5,146.3 L423.5,146.1 L424.5,146.3 L425.5,146.8 L426.5,147.4 L427.5,148.1 L428.5,148.8 L429.5,149.6 L430.5,150.4 L431.5,151.2 L432.5,152.0 L433.5,152.9 L434.5,153.7 L435.5,154.5 L436.5,155.4 L437.5,156.3 L438.5,157.3 L439.5,158.2 L440.5,159.2 L441.5,160.1 L442.5,161.1 L443.5,161.5 L444.5,161.5 L445.5,161.2 L446.5,160.9 L447.5,160.7 L448.5,160.9 L449.5,161.2 L450.5,161.8 L451.5,162.4 L452.5,163.2 L453.5,164.3 L454.5,165.5 L455.5,166.5 L456.5,167.2 L457.5,167.7 L458.5,168.1 L459.5,168.1 L460.5,167.4 L461.5,165.8 L462.5,163.4 L463.5,160.4 L464.5,157.2 L465.5,153.8 L466.5,151.0 L467.5,148.6 L468.5,146.4 L469.5,144.3 L470.5,142.6 L471.5,141.4 L472.5,140.8 L473.5,141.0 L474.5,141.7 L475.5,142.4 L476.5,142.2 L477.5,141.3 L478.5,140.5 L479.5,140.6 L480.5,141.8 L481.5,142.9 L482.5,143.9 L483.5,144.9 L484.5,145.8 L485.5,146.5 L486.5,147.1 L487.5,147.6 L488.5,147.9 L489.5,148.2 L490.5,149.4 L491.5,151.6 L492.5,154.2 L493.5,157.0 L494.5,159.5 L495.5,161.6 L496.5,163.4 L497.5,164.8 L498.5,165.8 L499.5,166.6 L500.5,167.2 L501.5,167.9 L502.5,168.6 L503.5,169.5 L504.5,170.8 L505.5,172.2 L506.5,173.0 L507.5,173.6 L508.5,173.9 L509.5,174.1 L510.5,174.2 L511.5,174.3 L512.5,174.2 L513.5,173.2 L514.5,172.0 L515.5,170.8 L516.5,169.6 L517.5,168.5 L518.5,167.3 L519.5,166.0 L520.5,164.8 L521.5,163.5 L522.5,162.0 L523.5,160.4 L524.5,158.6 L525.5,157.1 L526.5,155.8 L527.5,155.0 L528.5,154.9 L529.5,155.2 L530.5,155.9 L531.5,158.1 L532.5,162.4 L533.5,167.2 L534.5,172.3 L535.5,177.6 L536.5,183.1 L537.5,188.5 L538.5,193.8 L539.5,197.9 L540.5,200.9 L541.5,203.1 L542.5,204.8 L543.5,206.6" stroke="#ff0000" stroke-width="1" stroke-dasharray="3,3" fill="none"/>
<path d="M-0.5,195.2 L1.5,195.7 L3.7,199.4 L5.9,204.4 L7.9,211.1 L11.2,218.6 L13.7,220.3 L16.2,227.8 L18.2,234.5 L21.2,235.4 L24.6,227.8 L28.8,227.0 L32.9,222.0 L36.3,221.1 L38.8,222.8 L42.1,215.3 L45.5,211.1 L49.7,205.3 L53.0,203.6 L56.4,204.4 L58.9,197.7 L63.0,184.4 L66.4,178.5 L68.4,175.2 L71.4,177.7 L76.4,181.0 L78.9,188.5 L82.3,196.1 L84.8,201.1 L89.8,200.7 L92.3,198.6 L95.7,199.4 L99.5,200.5 L103.2,197.4 L106.2,202.8 L109.5,206.9 L113.7,211.1 L116.2,214.5 L118.7,218.6 L123.7,218.6 L126.3,211.9 L131.3,206.9 L135.5,200.2 L138.8,197.4 L143.0,196.9 L145.0,193.6 L148.0,194.4 L151.3,198.1 L157.2,199.4 L161.4,196.1 L165.6,187.7 L168.1,176.8 L171.4,169.3 L174.8,165.6 L179.8,164.3 L183.1,166.8 L186.5,170.1 L189.0,169.3 L192.3,166.0 L194.8,167.6 L196.5,173.5 L199.8,180.2 L203.7,178.5 L207.0,179.7 L210.4,178.5 L212.9,186.0 L216.2,199.4 L219.6,211.9 L222.9,214.1 L226.3,214.5 L230.4,211.1 L232.9,209.4 L235.0,211.1 L238.8,204.4 L243.8,200.2 L248.0,196.9 L252.2,195.7 L255.5,192.7 L257.2,181.0 L259.7,170.1 L262.2,168.5 L265.6,171.8 L268.9,173.5 L271.4,181.0 L274.8,189.4 L278.1,192.4 L281.4,191.9 L284.8,188.0 L288.1,185.2 L291.5,182.7 L294.0,177.7 L296.5,175.2 L299.5,174.9 L305.4,174.3 L307.5,173.0 L309.5,176.8 L312.0,181.0 L316.2,182.3 L319.6,179.3 L322.6,177.7 L325.4,183.5 L329.6,192.7 L333.8,196.9 L338.0,201.1 L340.5,202.8 L342.6,198.6 L344.7,204.4 L346.3,214.5 L348.3,229.5 L349.7,232.0 L351.3,227.8 L353.8,219.5 L356.4,211.1 L358.9,207.8 L360.0,194.4 L362.7,186.9 L366.4,186.0 L369.4,187.4 L371.7,191.4 L374.8,190.7 L378.1,187.7 L381.1,185.2 L382.8,190.2 L384.8,190.7 L387.3,182.7 L390.6,177.3 L394.0,178.5 L396.5,180.7 L399.8,181.3 L403.7,181.3 L406.5,176.8 L408.7,165.1 L411.2,155.9 L413.2,145.9 L415.9,142.2 L419.6,142.6 L422.1,144.2 L424.6,148.4 L428.8,152.6 L432.9,155.9 L437.1,160.1 L441.6,164.6 L443.8,160.1 L446.0,158.9 L448.8,162.6 L451.7,166.0 L453.3,170.1 L458.0,169.0 L459.7,163.5 L462.2,149.2 L464.4,140.0 L467.2,137.9 L468.9,134.5 L471.1,136.7 L473.1,143.4 L474.8,145.1 L476.1,137.2 L477.8,136.7 L479.4,145.9 L483.1,148.9 L488.8,148.9 L490.5,160.1 L492.7,168.5 L495.5,170.1 L499.7,169.0 L502.0,171.5 L504.2,177.3 L507.1,174.7 L511.3,174.0 L512.9,167.3 L516.3,163.5 L519.6,159.3 L522.1,154.3 L523.8,150.6 L526.0,150.1 L528.0,155.1 L530.0,159.3 L531.3,177.7 L533.8,194.4 L536.4,209.4 L537.7,215.3 L539.7,211.9 L541.4,211.1 L542.7,213.6M0.5,195.2 L2.5,195.7 L4.7,199.4 L6.9,204.4 L8.9,211.1 L12.2,218.6 L14.7,220.3 L17.2,227.8 L19.2,234.5 L22.2,235.4 L25.6,227.8 L29.8,227.0 L33.9,222.0 L37.3,221.1 L39.8,222.8 L43.1,215.3 L46.5,211.1 L50.7,205.3 L54.0,203.6 L57.4,204.4 L59.9,197.7 L64.0,184.4 L67.4,178.5 L69.4,175.2 L72.4,177.7 L77.4,181.0 L79.9,188.5 L83.3,196.1 L85.8,201.1 L90.8,200.7 L93.3,198.6 L96.7,199.4 L100.5,200.5 L104.2,197.4 L107.2,202.8 L110.5,206.9 L114.7,211.1 L117.2,214.5 L119.7,218.6 L124.7,218.6 L127.3,211.9 L132.3,206.9 L136.5,200.2 L139.8,197.4 L144.0,196.9 L146.0,193.6 L149.0,194.4 L152.3,198.1 L158.2,199.4 L162.4,196.1 L166.6,187.7 L169.1,176.8 L172.4,169.3 L175.8,165.6 L180.8,164.3 L184.1,166.8 L187.5,170.1 L190.0,169.3 L193.3,166.0 L195.8,167.6 L197.5,173.5 L200.8,180.2 L204.7,178.5 L208.0,179.7 L211.4,178.5 L213.9,186.0 L217.2,199.4 L220.6,211.9 L223.9,214.1 L227.3,214.5 L231.4,211.1 L233.9,209.4 L236.0,211.1 L239.8,204.4 L244.8,200.2 L249.0,196.9 L253.2,195.7 L256.5,192.7 L258.2,181.0 L260.7,170.1 L263.2,168.5 L266.6,171.8 L269.9,173.5 L272.4,181.0 L275.8,189.4 L279.1,192.4 L282.4,191.9 L285.8,188.0 L289.1,185.2 L292.5,182.7 L295.0,177.7 L297.5,175.2 L300.5,174.9 L306.4,174.3 L308.5,173.0 L310.5,176.8 L313.0,181.0 L317.2,182.3 L320.6,179.3 L323.6,177.7 L326.4,183.5 L330.6,192.7 L334.8,196.9 L339.0,201.1 L341.5,202.8 L343.6,198.6 L345.7,204.4 L347.3,214.5 L349.3,229.5 L350.7,232.0 L352.3,227.8 L354.8,219.5 L357.4,211.1 L359.9,207.8 L361.0,194.4 L363.7,186.9 L367.4,186.0 L370.4,187.4 L372.7,191.4 L375.8,190.7 L379.1,187.7 L382.1,185.2 L383.8,190.2 L385.8,190.7 L388.3,182.7 L391.6,177.3 L395.0,178.5 L397.5,180.7 L400.8,181.3 L404.7,181.3 L407.5,176.8 L409.7,165.1 L412.2,155.9 L414.2,145.9 L416.9,142.2 L420.6,142.6 L423.1,144.2 L425.6,148.4 L429.8,152.6 L433.9,155.9 L438.1,160.1 L442.6,164.6 L444.8,160.1 L447.0,158.9 L449.8,162.6 L452.7,166.0 L454.3,170.1 L459.0,169.0 L460.7,163.5 L463.2,149.2 L465.4,140.0 L468.2,137.9 L469.9,134.5 L472.1,136.7 L474.1,143.4 L475.8,145.1 L477.1,137.2 L478.8,136.7 L480.4,145.9 L484.1,148.9 L489.8,148.9 L491.5,160.1 L493.7,168.5 L496.5,170.1 L500.7,169.0 L503.0,171.5 L505.2,177.3 L508.1,174.7 L512.3,174.0 L513.9,167.3 L517.3,163.5 L520.6,159.3 L523.1,154.3 L524.8,150.6 L527.0,150.1 L529.0,155.1 L531.0,159.3 L532.3,177.7 L534.8,194.4 L537.4,209.4 L538.7,215.3 L540.7,211.9 L542.4,211.1 L543.7,213.6M-0.5,196.2 L1.5,196.7 L3.7,200.4 L5.9,205.4 L7.9,212.1 L11.2,219.6 L13.7,221.3 L16.2,228.8 L18.2,235.5 L21.2,236.4 L24.6,228.8 L28.8,228.0 L32.9,223.0 L36.3,222.1 L38.8,223.8 L42.1,216.3 L45.5,212.1 L49.7,206.3 L53.0,204.6 L56.4,205.4 L58.9,198.7 L63.0,185.4 L66.4,179.5 L68.4,176.2 L71.4,178.7 L76.4,182.0 L78.9,189.5 L82.3,197.1 L84.8,202.1 L89.8,201.7 L92.3,199.6 L95.7,200.4 L99.5,201.5 L103.2,198.4 L106.2,203.8 L109.5,207.9 L113.7,212.1 L116.2,215.5 L118.7,219.6 L123.7,219.6 L126.3,212.9 L131.3,207.9 L135.5,201.2 L138.8,198.4 L143.0,197.9 L145.0,194.6 L148.0,195.4 L151.3,199.1 L157.2,200.4 L161.4,197.1 L165.6,188.7 L168.1,177.8 L171.4,170.3 L174.8,166.6 L179.8,165.3 L183.1,167.8 L186.5,171.1 L189.0,170.3 L192.3,167.0 L194.8,168.6 L196.5,174.5 L199.8,181.2 L203.7,179.5 L207.0,180.7 L210.4,179.5 L212.9,187.0 L216.2,200.4 L219.6,212.9 L222.9,215.1 L226.3,215.5 L230.4,212.1 L232.9,210.4 L235.0,212.1 L238.8,205.4 L243.8,201.2 L248.0,197.9 L252.2,196.7 L255.5,193.7 L257.2,182.0 L259.7,171.1 L262.2,169.5 L265.6,172.8 L268.9,174.5 L271.4,182.0 L274.8,190.4 L278.1,193.4 L281.4,192.9 L284.8,189.0 L288.1,186.2 L291.5,183.7 L294.0,178.7 L296.5,176.2 L299.5,175.9 L305.4,175.3 L307.5,174.0 L309.5,177.8 L312.0,182.0 L316.2,183.3 L319.6,180.3 L322.6,178.7 L325.4,184.5 L329.6,193.7 L333.8,197.9 L338.0,202.1 L340.5,203.8 L342.6,199.6 L344.7,205.4 L346.3,215.5 L348.3,230.5 L349.7,233.0 L351.3,228.8 L353.8,220.5 L356.4,212.1 L358.9,208.8 L360.0,195.4 L362.7,187.9 L366.4,187.0 L369.4,188.4 L371.7,192.4 L374.8,191.7 L378.1,188.7 L381.1,186.2 L382.8,191.2 L384.8,191.7 L387.3,183.7 L390.6,178.3 L394.0,179.5 L396.5,181.7 L399.8,182.3 L403.7,182.3 L406.5,177.8 L408.7,166.1 L411.2,156.9 L413.2,146.9 L415.9,143.2 L419.6,143.6 L422.1,145.2 L424.6,149.4 L428.8,153.6 L432.9,156.9 L437.1,161.1 L441.6,165.6 L443.8,161.1 L446.0,159.9 L448.8,163.6 L451.7,167.0 L453.3,171.1 L458.0,170.0 L459.7,164.5 L462.2,150.2 L464.4,141.0 L467.2,138.9 L468.9,135.5 L471.1,137.7 L473.1,144.4 L474.8,146.1 L476.1,138.2 L477.8,137.7 L479.4,146.9 L483.1,149.9 L488.8,149.9 L490.5,161.1 L492.7,169.5 L495.5,171.1 L499.7,170.0 L502.0,172.5 L504.2,178.3 L507.1,175.7 L511.3,175.0 L512.9,168.3 L516.3,164.5 L519.6,160.3 L522.1,155.3 L523.8,151.6 L526.0,151.1 L528.0,156.1 L530.0,160.3 L531.3,178.7 L533.8,195.4 L536.4,210.4 L537.7,216.3 L539.7,212.9 L541.4,212.1 L542.7,214.6M0.5,196.2 L2.5,196.7 L4.7,200.4 L6.9,205.4 L8.9,212.1 L12.2,219.6 L14.7,221.3 L17.2,228.8 L19.2,235.5 L22.2,236.4 L25.6,228.8 L29.8,228.0 L33.9,223.0 L37.3,222.1 L39.8,223.8 L43.1,216.3 L46.5,212.1 L50.7,206.3 L54.0,204.6 L57.4,205.4 L59.9,198.7 L64.0,185.4 L67.4,179.5 L69.4,176.2 L72.4,178.7 L77.4,182.0 L79.9,189.5 L83.3,197.1 L85.8,202.1 L90.8,201.7 L93.3,199.6 L96.7,200.4 L100.5,201.5 L104.2,198.4 L107.2,203.8 L110.5,207.9 L114.7,212.1 L117.2,215.5 L119.7,219.6 L124.7,219.6 L127.3,212.9 L132.3,207.9 L136.5,201.2 L139.8,198.4 L144.0,197.9 L146.0,194.6 L149.0,195.4 L152.3,199.1 L158.2,200.4 L162.4,197.1 L166.6,188.7 L169.1,177.8 L172.4,170.3 L175.8,166.6 L180.8,165.3 L184.1,167.8 L187.5,171.1 L190.0,170.3 L193.3,167.0 L195.8,168.6 L197.5,174.5 L200.8,181.2 L204.7,179.5 L208.0,180.7 L211.4,179.5 L213.9,187.0 L217.2,200.4 L220.6,212.9 L223.9,215.1 L227.3,215.5 L231.4,212.1 L233.9,210.4 L236.0,212.1 L239.8,205.4 L244.8,201.2 L249.0,197.9 L253.2,196.7 L256.5,193.7 L258.2,182.0 L260.7,171.1 L263.2,169.5 L266.6,172.8 L269.9,174.5 L272.4,182.0 L275.8,190.4 L279.1,193.4 L282.4,192.9 L285.8,189.0 L289.1,186.2 L292.5,183.7 L295.0,178.7 L297.5,176.2 L300.5,175.9 L306.4,175.3 L308.5,174.0 L310.5,177.8 L313.0,182.0 L317.2,183.3 L320.6,180.3 L323.6,178.7 L326.4,184.5 L330.6,193.7 L334.8,197.9 L339.0,202.1 L341.5,203.8 L343.6,199.6 L345.7,205.4 L347.3,215.5 L349.3,230.5 L350.7,233.0 L352.3,228.8 L354.8,220.5 L357.4,212.1 L359.9,208.8 L361.0,195.4 L363.7,187.9 L367.4,187.0 L370.4,188.4 L372.7,192.4 L375.8,191.7 L379.1,188.7 L382.1,186.2 L383.8,191.2 L385.8,191.7 L388.3,183.7 L391.6,178.3 L395.0,179.5 L397.5,181.7 L400.8,182.3 L404.7,182.3 L407.5,177.8 L409.7,166.1 L412.2,156.9 L414.2,146.9 L416.9,143.2 L420.6,143.6 L423.1,145.2 L425.6,149.4 L429.8,153.6 L433.9,156.9 L438.1,161.1 L442.6,165.6 L444.8,161.1 L447.0,159.9 L449.8,163.6 L452.7,167.0 L454.3,171.1 L459.0,170.0 L460.7,164.5 L463.2,150.2 L465.4,141.0 L468.2,138.9 L469.9,135.5 L472.1,137.7 L474.1,144.4 L475.8,146.1 L477.1,138.2 L478.8,137.7 L480.4,146.9 L484.1,149.9 L489.8,149.9 L491.5,161.1 L493.7,169.5 L496.5,171.1 L500.7,170.0 L503.0,172.5 L505.2,178.3 L508.1,175.7 L512.3,175.0 L513.9,168.3 L517.3,164.5 L520.6,160.3 L523.1,155.3 L524.8,151.6 L527.0,151.1 L529.0,156.1 L531.0,160.3 L532.3,178.7 L534.8,195.4 L537.4,210.4 L538.7,216.3 L540.7,212.9 L542.4,212.1 L543.7,214.6" stroke="#ff0000" stroke-width="1" fill="none"/>
<path d="M0.5,476.0 L5.5,476.5 L10.5,474.3 L15.5,471.8 L19.7,470.1 L23.9,473.4 L27.3,479.3 L30.6,486.0 L33.9,490.2 L40.6,493.2 L47.3,495.2 L54.0,493.8 L59.0,490.2 L64.0,483.5 L67.4,479.3 L72.4,474.8 L77.4,473.4 L82.4,474.8 L87.5,476.0 L92.5,477.1 L96.7,480.1 L100.8,483.8 L105.5,483.8 L110.5,484.3 L115.5,483.8 L120.6,482.7 L125.6,483.5 L130.6,486.0 L133.9,488.5 L139.0,486.0 L145.7,483.8 L150.7,486.0 L157.4,486.5 L162.4,485.2 L165.7,476.8 L170.7,468.5 L175.8,460.1 L180.8,455.1 L185.8,453.7 L190.8,455.1 L194.1,452.6 L197.5,451.4 L200.5,452.5 L205.5,451.0 L210.5,448.8 L217.2,447.7 L223.9,447.7 L230.6,450.2 L235.6,455.2 L239.0,461.0 L244.0,461.0 L250.7,458.5 L255.7,452.7 L259.0,443.5 L262.4,437.6 L267.4,434.8 L274.1,434.3 L279.1,436.0 L284.1,438.5 L289.1,437.6 L292.5,435.1 L295.8,430.9 L300.8,426.8 L307.2,424.8 L313.9,425.2 L320.6,424.3 L325.6,422.7 L332.3,422.7 L339.0,422.2 L345.7,421.0 L349.0,416.0 L354.0,415.1 L359.0,416.0 L362.4,412.6 L367.4,410.1 L374.1,409.3 L377.4,414.3 L380.8,415.1 L385.8,412.6 L390.8,410.1 L397.5,407.6 L400.5,407.8 L405.9,398.8 L411.2,386.3 L416.6,371.9 L422.0,363.9 L427.4,362.1 L432.7,366.6 L436.3,369.3 L441.7,365.7 L447.1,360.3 L452.4,357.6 L457.8,354.9 L459.5,352.0 L461.4,342.3 L464.7,328.9 L468.9,318.9 L473.9,312.2 L477.3,307.2 L482.3,307.2 L487.3,310.5 L494.0,308.8 L500.7,306.8 L505.7,308.8 L510.7,306.3 L514.0,301.3 L517.4,293.8 L522.4,285.4 L527.4,278.7 L532.4,277.9 L537.5,275.7 L541.6,275.4 L543.3,276.7" stroke="#ff0000" stroke-width="1" fill="none"/>
<path d="M0.5,490.2 L5.5,490.2 L10.5,495.2 L14.7,500.2 L17.2,506.9 L20.6,513.6 L25.6,515.3 L30.6,512.7 L37.3,511.1 L44.0,509.4 L50.7,507.7 L57.4,507.7 L64.0,511.1 L69.1,509.9 L74.1,506.1 L79.1,502.7 L84.1,498.5 L90.8,496.9 L97.5,496.9 L104.5,496.5 L108.9,496.9 L113.9,500.2 L118.9,504.4 L123.9,506.1 L130.6,504.9 L137.3,504.4 L144.0,503.6 L149.0,499.4 L154.0,496.1 L159.0,494.4 L164.0,495.2 L167.4,498.6 L172.4,502.7 L176.6,503.2 L180.8,499.4 L184.1,493.5 L187.5,485.2 L190.8,477.7 L194.1,473.5 L199.2,471.8 L202.5,472.8 L207.2,471.1 L212.2,468.6 L215.6,470.2 L218.9,473.6 L222.2,477.8 L227.3,479.9 L233.9,481.1 L237.3,478.6 L240.6,475.3 L247.3,473.6 L254.0,473.6 L259.0,477.8 L261.5,478.6 L265.7,476.1 L270.7,471.9 L275.8,466.9 L279.1,461.0 L284.1,457.7 L292.5,457.7 L297.5,456.0 L300.5,456.9 L305.5,450.3 L310.5,445.2 L317.2,440.2 L322.2,435.2 L327.3,431.9 L332.3,434.4 L337.3,436.9 L344.0,439.4 L347.3,445.2 L350.7,455.3 L355.7,458.6 L364.0,460.6 L372.4,459.4 L375.8,453.6 L379.1,441.9 L382.4,435.2 L385.8,432.7 L390.8,430.2 L397.5,427.7 L400.5,427.5 L407.7,429.3 L414.8,431.0 L422.0,427.5 L427.4,420.3 L430.1,404.2 L432.7,391.6 L436.3,384.5 L441.7,383.6 L447.1,385.4 L454.2,381.8 L459.6,378.2 L462.3,383.6 L466.8,384.5 L473.9,379.1 L478.9,373.2 L481.4,365.7 L483.9,355.6 L486.5,343.9 L490.6,342.3 L497.3,341.4 L502.3,337.2 L505.7,333.1 L508.2,335.6 L513.2,333.9 L516.6,335.6 L522.4,332.2 L527.4,329.7 L531.6,324.7 L534.9,328.1 L538.3,333.1 L543.3,334.2" stroke="#ff0000" stroke-width="1" fill="none"/>
<path d="M0.5,483.1 L1.5,483.2 L2.5,483.2 L3.5,483.3 L4.5,483.4 L5.5,483.5 L6.5,483.7 L7.5,483.9 L8.5,484.2 L9.5,484.5 L10.5,484.8 L11.5,485.1 L12.5,485.5 L13.5,486.1 L14.5,486.7 L15.5,487.4 L16.5,488.2 L17.5,489.1 L18.5,490.0 L19.5,490.9 L20.5,491.7 L21.5,492.5 L22.5,493.3 L23.5,494.1 L24.5,494.8 L25.5,495.5 L26.5,496.3 L27.5,497.0 L28.5,497.8 L29.5,498.4 L30.5,499.1 L31.5,499.7 L32.5,500.2 L33.5,500.6 L34.5,500.9 L35.5,501.1 L36.5,501.3 L37.5,501.4 L38.5,501.5 L39.5,501.6 L40.5,501.7 L41.5,501.7 L42.5,501.8 L43.5,501.8 L44.5,501.8 L45.5,501.8 L46.5,501.7 L47.5,501.6 L48.5,501.5 L49.5,501.4 L50.5,501.2 L51.5,501.1 L52.5,500.9 L53.5,500.6 L54.5,500.4 L55.5,500.2 L56.5,499.9 L57.5,499.6 L58.5,499.3 L59.5,499.0 L60.5,498.7 L61.5,498.3 L62.5,497.8 L63.5,497.3 L64.5,496.7 L65.5,496.1 L66.5,495.5 L67.5,494.8 L68.5,494.1 L69.5,493.3 L70.5,492.6 L71.5,492.0 L72.5,491.3 L73.5,490.7 L74.5,490.1 L75.5,489.6 L76.5,489.2 L77.5,488.8 L78.5,488.5 L79.5,488.2 L80.5,487.9 L81.5,487.6 L82.5,487.4 L83.5,487.2 L84.5,487.1 L85.5,486.9 L86.5,486.9 L87.5,486.8 L88.5,486.8 L89.5,486.9 L90.5,486.9 L91.5,487.1 L92.5,487.2 L93.5,487.5 L94.5,487.8 L95.5,488.1 L96.5,488.5 L97.5,488.9 L98.5,489.2 L99.5,489.6 L100.5,489.8 L101.5,490.0 L102.5,490.1 L103.5,490.2 L104.5,490.2 L105.5,490.3 L106.5,490.3 L107.5,490.5 L108.5,490.7 L109.5,490.9 L110.5,491.1 L111.5,491.4 L112.5,491.7 L113.5,492.0 L114.5,492.3 L115.5,492.6 L116.5,492.9 L117.5,493.2 L118.5,493.5 L119.5,493.7 L120.5,493.9 L121.5,494.1 L122.5,494.3 L123.5,494.4 L124.5,494.6 L125.5,494.7 L126.5,494.9 L127.5,495.0 L128.5,495.1 L129.5,495.3 L130.5,495.6 L131.5,495.8 L132.5,495.9 L133.5,496.0 L134.5,496.0 L135.5,496.0 L136.5,495.8 L137.5,495.6 L138.5,495.3 L139.5,495.0 L140.5,494.8 L141.5,494.5 L142.5,494.2 L143.5,493.9 L144.5,493.6 L145.5,493.3 L146.5,493.0 L147.5,492.7 L148.5,492.5 L149.5,492.3 L150.5,492.0 L151.5,491.8 L152.5,491.6 L153.5,491.4 L154.5,491.2 L155.5,491.0 L156.5,490.8 L157.5,490.6 L158.5,490.5 L159.5,490.3 L160.5,490.0 L161.5,489.6 L162.5,489.1 L163.5,488.6 L164.5,488.1 L165.5,487.5 L166.5,486.8 L167.5,486.3 L168.5,485.8 L169.5,485.4 L170.5,484.9 L171.5,484.4 L172.5,483.8 L173.5,483.3 L174.5,482.6 L175.5,481.9 L176.5,481.1 L177.5,480.2 L178.5,479.4 L179.5,478.5 L180.5,477.5 L181.5,476.5 L182.5,475.4 L183.5,474.3 L184.5,473.2 L185.5,472.0 L186.5,470.9 L187.5,469.8 L188.5,468.7 L189.5,467.7 L190.5,466.7 L191.5,465.7 L192.5,464.8 L193.5,464.1 L194.5,463.4 L195.5,462.8 L196.5,462.5 L197.5,462.3 L198.5,462.2 L199.5,462.2 L200.5,462.1 L201.5,462.1 L202.5,462.0 L203.5,461.9 L204.5,461.6 L205.5,461.3 L206.5,460.9 L207.5,460.5 L208.5,460.1 L209.5,459.7 L210.5,459.4 L211.5,459.1 L212.5,459.0 L213.5,459.0 L214.5,459.1 L215.5,459.3 L216.5,459.7 L217.5,460.1 L218.5,460.6 L219.5,461.1 L220.5,461.6 L221.5,462.1 L222.5,462.6 L223.5,463.0 L224.5,463.4 L225.5,463.8 L226.5,464.1 L227.5,464.4 L228.5,464.8 L229.5,465.2 L230.5,465.6 L231.5,466.0 L232.5,466.4 L233.5,466.8 L234.5,467.2 L235.5,467.7 L236.5,468.0 L237.5,468.1 L238.5,468.2 L239.5,468.3 L240.5,468.3 L241.5,468.1 L242.5,467.9 L243.5,467.7 L244.5,467.4 L245.5,467.2 L246.5,467.0 L247.5,466.7 L248.5,466.5 L249.5,466.1 L250.5,465.8 L251.5,465.4 L252.5,465.0 L253.5,464.6 L254.5,464.0 L255.5,463.4 L256.5,462.7 L257.5,462.0 L258.5,461.3 L259.5,460.4 L260.5,459.6 L261.5,458.8 L262.5,458.1 L263.5,457.4 L264.5,456.7 L265.5,456.0 L266.5,455.4 L267.5,454.9 L268.5,454.3 L269.5,453.8 L270.5,453.3 L271.5,452.8 L272.5,452.3 L273.5,451.8 L274.5,451.3 L275.5,450.8 L276.5,450.2 L277.5,449.7 L278.5,449.3 L279.5,448.9 L280.5,448.6 L281.5,448.4 L282.5,448.2 L283.5,448.1 L284.5,448.1 L285.5,448.0 L286.5,447.9 L287.5,447.7 L288.5,447.5 L289.5,447.3 L290.5,447.0 L291.5,446.6 L292.5,446.0 L293.5,445.4 L294.5,444.8 L295.5,444.2 L296.5,443.6 L297.5,443.1 L298.5,442.5 L299.5,442.0 L300.5,441.5 L301.5,440.9 L302.5,440.2 L303.5,439.5 L304.5,438.7 L305.5,438.0 L306.5,437.3 L307.5,436.7 L308.5,436.1 L309.5,435.7 L310.5,435.2 L311.5,434.8 L312.5,434.4 L313.5,434.0 L314.5,433.6 L315.5,433.2 L316.5,432.7 L317.5,432.2 L318.5,431.7 L319.5,431.1 L320.5,430.6 L321.5,430.0 L322.5,429.5 L323.5,428.9 L324.5,428.5 L325.5,428.1 L326.5,427.9 L327.5,427.8 L328.5,427.8 L329.5,427.9 L330.5,428.1 L331.5,428.3 L332.5,428.6 L333.5,428.8 L334.5,429.0 L335.5,429.2 L336.5,429.4 L337.5,429.6 L338.5,429.7 L339.5,429.9 L340.5,430.0 L341.5,430.2 L342.5,430.4 L343.5,430.7 L344.5,431.0 L345.5,431.3 L346.5,431.9 L347.5,432.6 L348.5,433.3 L349.5,433.9 L350.5,434.5 L351.5,435.2 L352.5,435.7 L353.5,436.2 L354.5,436.5 L355.5,436.8 L356.5,437.0 L357.5,437.2 L358.5,437.2 L359.5,437.1 L360.5,437.0 L361.5,436.8 L362.5,436.5 L363.5,436.2 L364.5,436.0 L365.5,435.7 L366.5,435.5 L367.5,435.2 L368.5,435.0 L369.5,434.8 L370.5,434.6 L371.5,434.2 L372.5,433.9 L373.5,433.5 L374.5,433.0 L375.5,432.2 L376.5,431.3 L377.5,430.4 L378.5,429.4 L379.5,428.3 L380.5,427.1 L381.5,426.1 L382.5,425.1 L383.5,424.3 L384.5,423.6 L385.5,422.9 L386.5,422.4 L387.5,421.8 L388.5,421.3 L389.5,420.8 L390.5,420.4 L391.5,420.0 L392.5,419.5 L393.5,419.1 L394.5,418.8 L395.5,418.4 L396.5,418.2 L397.5,418.0 L398.5,417.7 L399.5,417.4 L400.5,417.0 L401.5,416.6 L402.5,416.1 L403.5,415.5 L404.5,414.7 L405.5,413.9 L406.5,413.0 L407.5,412.0 L408.5,411.1 L409.5,410.0 L410.5,408.9 L411.5,407.7 L412.5,406.6 L413.5,405.3 L414.5,404.0 L415.5,402.8 L416.5,401.6 L417.5,400.4 L418.5,399.2 L419.5,398.2 L420.5,397.2 L421.5,396.3 L422.5,395.4 L423.5,394.5 L424.5,393.6 L425.5,392.5 L426.5,391.1 L427.5,389.6 L428.5,387.8 L429.5,385.9 L430.5,384.0 L431.5,382.2 L432.5,380.6 L433.5,379.3 L434.5,378.3 L435.5,377.5 L436.5,377.0 L437.5,376.5 L438.5,376.0 L439.5,375.6 L440.5,375.2 L441.5,374.8 L442.5,374.4 L443.5,374.1 L444.5,373.7 L445.5,373.3 L446.5,372.9 L447.5,372.5 L448.5,372.1 L449.5,371.6 L450.5,371.1 L451.5,370.6 L452.5,370.1 L453.5,369.6 L454.5,369.0 L455.5,368.4 L456.5,367.7 L457.5,366.8 L458.5,365.8 L459.5,364.7 L460.5,363.4 L461.5,361.9 L462.5,360.4 L463.5,358.9 L464.5,357.4 L465.5,355.9 L466.5,354.4 L467.5,353.0 L468.5,351.8 L469.5,350.6 L470.5,349.4 L471.5,348.2 L472.5,347.0 L473.5,345.9 L474.5,344.7 L475.5,343.6 L476.5,342.5 L477.5,341.3 L478.5,340.1 L479.5,338.8 L480.5,337.4 L481.5,335.9 L482.5,334.3 L483.5,332.5 L484.5,331.0 L485.5,329.6 L486.5,328.4 L487.5,327.5 L488.5,326.8 L489.5,326.3 L490.5,326.1 L491.5,325.9 L492.5,325.6 L493.5,325.4 L494.5,325.2 L495.5,324.9 L496.5,324.6 L497.5,324.2 L498.5,323.8 L499.5,323.4 L500.5,323.0 L501.5,322.6 L502.5,322.2 L503.5,321.9 L504.5,321.7 L505.5,321.5 L506.5,321.3 L507.5,321.2 L508.5,320.9 L509.5,320.6 L510.5,320.2 L511.5,319.6 L512.5,318.9 L513.5,318.1 L514.5,317.2 L515.5,316.3 L516.5,315.3 L517.5,314.3 L518.5,313.2 L519.5,312.1 L520.5,311.0 L521.5,309.9 L522.5,308.9 L523.5,307.9 L524.5,306.9 L525.5,306.0 L526.5,305.1 L527.5,304.3 L528.5,303.6 L529.5,303.0 L530.5,302.5 L531.5,302.3 L532.5,302.2 L533.5,302.2 L534.5,302.5 L535.5,302.9 L536.5,303.3 L537.5,303.7 L538.5,304.0 L539.5,304.3 L540.5,304.6 L541.5,304.8 L542.5,305.0 L543.5,305.1" stroke="#ff0000" stroke-width="1" fill="none"/>
<rect x="24" y="497" width="1" height="6" fill="#008000"/>
<rect x="25" y="497" width="1" height="7" fill="#008000"/>
<rect x="26" y="497" width="1" height="7" fill="#008000"/>
<rect x="28" y="499" width="1" height="5" fill="#008000"/>
<rect x="29" y="499" width="1" height="5" fill="#008000"/>
<rect x="31" y="499" width="1" height="6" fill="#ff0000"/>
<rect x="32" y="499" width="1" height="8" fill="#008000"/>
<rect x="33" y="500" width="1" height="3" fill="#008000"/>
<rect x="35" y="501" width="1" height="3" fill="#008000"/>
<rect x="36" y="501" width="1" height="3" fill="#008000"/>
<rect x="37" y="502" width="1" height="4" fill="#ff0000"/>
<rect x="39" y="499" width="1" height="8" fill="#008000"/>
<rect x="40" y="501" width="1" height="3" fill="#008000"/>
<rect x="42" y="498" width="1" height="5" fill="#ff0000"/>
<rect x="43" y="499" width="1" height="5" fill="#008000"/>
<rect x="44" y="499" width="1" height="3" fill="#ff0000"/>
<rect x="46" y="498" width="1" height="5" fill="#ff0000"/>
<rect x="47" y="498" width="1" height="8" fill="#ff0000"/>
<rect x="49" y="498" width="1" height="4" fill="#ff0000"/>
<rect x="50" y="496" width="1" height="7" fill="#008000"/>
<rect x="51" y="495" width="1" height="8" fill="#008000"/>
<rect x="53" y="497" width="1" height="4" fill="#008000"/>
<rect x="54" y="497" width="1" height="6" fill="#ff0000"/>
<rect x="56" y="497" width="1" height="8" fill="#008000"/>
<rect x="57" y="497" width="1" height="7" fill="#008000"/>
<rect x="58" y="492" width="1" height="7" fill="#ff0000"/>
<rect x="60" y="485" width="1" height="6" fill="#008000"/>
<rect x="61" y="483" width="1" height="7" fill="#008000"/>
<rect x="62" y="481" width="1" height="5" fill="#008000"/>
<rect x="64" y="479" width="1" height="7" fill="#008000"/>
<rect x="65" y="479" width="1" height="5" fill="#008000"/>
<rect x="67" y="476" width="1" height="5" fill="#008000"/>
<rect x="68" y="476" width="1" height="7" fill="#008000"/>
<rect x="69" y="477" width="1" height="4" fill="#ff0000"/>
<rect x="71" y="476" width="1" height="6" fill="#008000"/>
<rect x="72" y="479" width="1" height="5" fill="#ff0000"/>
<rect x="74" y="480" width="1" height="5" fill="#ff0000"/>
<rect x="75" y="479" width="1" height="8" fill="#ff0000"/>
<rect x="76" y="481" width="1" height="6" fill="#ff0000"/>
<rect x="78" y="482" width="1" height="7" fill="#ff0000"/>
<rect x="79" y="486" width="1" height="6" fill="#ff0000"/>
<rect x="81" y="488" width="1" height="3" fill="#ff0000"/>
<rect x="82" y="486" width="1" height="8" fill="#008000"/>
<rect x="83" y="489" width="1" height="6" fill="#008000"/>
<rect x="85" y="488" width="1" height="7" fill="#ff0000"/>
<rect x="86" y="491" width="1" height="4" fill="#ff0000"/>
<rect x="87" y="488" width="1" height="4" fill="#008000"/>
<rect x="89" y="488" width="1" height="4" fill="#008000"/>
<rect x="90" y="484" width="1" height="9" fill="#008000"/>
<rect x="92" y="485" width="1" height="4" fill="#008000"/>
<rect x="93" y="484" width="1" height="7" fill="#008000"/>
<rect x="94" y="486" width="1" height="5" fill="#008000"/>
<rect x="96" y="488" width="1" height="5" fill="#008000"/>
<rect x="97" y="487" width="1" height="4" fill="#ff0000"/>
<rect x="99" y="487" width="1" height="6" fill="#ff0000"/>
<rect x="100" y="485" width="1" height="4" fill="#008000"/>
<rect x="101" y="484" width="1" height="3" fill="#008000"/>
<rect x="103" y="483" width="1" height="4" fill="#ff0000"/>
<rect x="104" y="483" width="1" height="4" fill="#008000"/>
<rect x="106" y="486" width="1" height="6" fill="#008000"/>
<rect x="107" y="487" width="1" height="6" fill="#ff0000"/>
<rect x="108" y="490" width="1" height="5" fill="#ff0000"/>
<rect x="110" y="493" width="1" height="3" fill="#ff0000"/>
<rect x="111" y="494" width="1" height="2" fill="#008000"/>
<rect x="112" y="493" width="1" height="5" fill="#ff0000"/>
<rect x="114" y="494" width="1" height="3" fill="#ff0000"/>
<rect x="115" y="495" width="1" height="6" fill="#ff0000"/>
<rect x="117" y="499" width="1" height="3" fill="#ff0000"/>
<rect x="118" y="501" width="1" height="3" fill="#ff0000"/>
<rect x="119" y="502" width="1" height="2" fill="#008000"/>
<rect x="121" y="499" width="1" height="6" fill="#008000"/>
<rect x="122" y="500" width="1" height="5" fill="#008000"/>
<rect x="124" y="498" width="1" height="5" fill="#008000"/>
<rect x="125" y="496" width="1" height="5" fill="#ff0000"/>
<rect x="126" y="494" width="1" height="8" fill="#008000"/>
<rect x="128" y="494" width="1" height="5" fill="#008000"/>
<rect x="129" y="494" width="1" height="4" fill="#008000"/>
<rect x="131" y="491" width="1" height="6" fill="#008000"/>
<rect x="132" y="491" width="1" height="6" fill="#008000"/>
<rect x="133" y="489" width="1" height="5" fill="#008000"/>
<rect x="135" y="489" width="1" height="5" fill="#008000"/>
<rect x="136" y="488" width="1" height="6" fill="#008000"/>
<rect x="137" y="490" width="1" height="2" fill="#008000"/>
<rect x="139" y="488" width="1" height="3" fill="#ff0000"/>
<rect x="140" y="487" width="1" height="5" fill="#008000"/>
<rect x="142" y="488" width="1" height="5" fill="#008000"/>
<rect x="143" y="487" width="1" height="6" fill="#008000"/>
<rect x="144" y="488" width="1" height="3" fill="#ff0000"/>
<rect x="146" y="486" width="1" height="5" fill="#ff0000"/>
<rect x="147" y="485" width="1" height="6" fill="#ff0000"/>
<rect x="149" y="486" width="1" height="5" fill="#ff0000"/>
<rect x="150" y="488" width="1" height="4" fill="#008000"/>
<rect x="151" y="489" width="1" height="5" fill="#008000"/>
<rect x="153" y="487" width="1" height="7" fill="#ff0000"/>
<rect x="154" y="487" width="1" height="6" fill="#008000"/>
<rect x="156" y="489" width="1" height="2" fill="#008000"/>
<rect x="157" y="487" width="1" height="5" fill="#ff0000"/>
<rect x="158" y="485" width="1" height="6" fill="#008000"/>
<rect x="160" y="482" width="1" height="9" fill="#008000"/>
<rect x="161" y="482" width="1" height="7" fill="#008000"/>
<rect x="162" y="481" width="1" height="5" fill="#008000"/>
<rect x="164" y="479" width="1" height="7" fill="#008000"/>
<rect x="165" y="479" width="1" height="5" fill="#008000"/>
<rect x="167" y="474" width="1" height="5" fill="#008000"/>
<rect x="168" y="471" width="1" height="7" fill="#008000"/>
<rect x="169" y="469" width="1" height="3" fill="#008000"/>
<rect x="171" y="463" width="1" height="8" fill="#008000"/>
<rect x="172" y="464" width="1" height="4" fill="#008000"/>
<rect x="174" y="464" width="1" height="5" fill="#008000"/>
<rect x="175" y="463" width="1" height="4" fill="#ff0000"/>
<rect x="176" y="461" width="1" height="7" fill="#008000"/>
<rect x="178" y="462" width="1" height="7" fill="#008000"/>
<rect x="179" y="460" width="1" height="9" fill="#008000"/>
<rect x="181" y="461" width="1" height="4" fill="#ff0000"/>
<rect x="182" y="460" width="1" height="8" fill="#ff0000"/>
<rect x="183" y="460" width="1" height="4" fill="#008000"/>
<rect x="185" y="461" width="1" height="4" fill="#ff0000"/>
<rect x="186" y="462" width="1" height="4" fill="#008000"/>
<rect x="187" y="460" width="1" height="4" fill="#008000"/>
<rect x="189" y="454" width="1" height="9" fill="#008000"/>
<rect x="190" y="451" width="1" height="7" fill="#008000"/>
<rect x="192" y="448" width="1" height="7" fill="#008000"/>
<rect x="193" y="449" width="1" height="5" fill="#008000"/>
<rect x="194" y="449" width="1" height="7" fill="#ff0000"/>
<rect x="196" y="452" width="1" height="6" fill="#ff0000"/>
<rect x="197" y="454" width="1" height="5" fill="#ff0000"/>
<rect x="199" y="456" width="1" height="4" fill="#ff0000"/>
<rect x="200" y="458" width="1" height="4" fill="#008000"/>
<rect x="201" y="456" width="1" height="4" fill="#ff0000"/>
<rect x="203" y="451" width="1" height="10" fill="#ff0000"/>
<rect x="204" y="450" width="1" height="7" fill="#008000"/>
<rect x="206" y="451" width="1" height="5" fill="#008000"/>
<rect x="207" y="448" width="1" height="7" fill="#008000"/>
<rect x="208" y="448" width="1" height="8" fill="#ff0000"/>
<rect x="210" y="448" width="1" height="7" fill="#ff0000"/>
<rect x="211" y="450" width="1" height="7" fill="#008000"/>
<rect x="212" y="456" width="1" height="2" fill="#ff0000"/>
<rect x="214" y="457" width="1" height="8" fill="#ff0000"/>
<rect x="215" y="463" width="1" height="7" fill="#ff0000"/>
<rect x="217" y="465" width="1" height="6" fill="#ff0000"/>
<rect x="218" y="469" width="1" height="4" fill="#ff0000"/>
<rect x="219" y="470" width="1" height="6" fill="#ff0000"/>
<rect x="221" y="472" width="1" height="7" fill="#ff0000"/>
<rect x="222" y="473" width="1" height="6" fill="#ff0000"/>
<rect x="224" y="472" width="1" height="5" fill="#008000"/>
<rect x="225" y="469" width="1" height="4" fill="#008000"/>
<rect x="226" y="468" width="1" height="7" fill="#ff0000"/>
<rect x="228" y="466" width="1" height="7" fill="#008000"/>
<rect x="229" y="465" width="1" height="9" fill="#008000"/>
<rect x="231" y="464" width="1" height="7" fill="#ff0000"/>
<rect x="232" y="466" width="1" height="4" fill="#008000"/>
<rect x="233" y="467" width="1" height="6" fill="#008000"/>
<rect x="235" y="468" width="1" height="7" fill="#ff0000"/>
<rect x="236" y="465" width="1" height="9" fill="#ff0000"/>
<rect x="237" y="466" width="1" height="4" fill="#ff0000"/>
<rect x="239" y="463" width="1" height="9" fill="#ff0000"/>
<rect x="240" y="460" width="1" height="8" fill="#008000"/>
<rect x="242" y="462" width="1" height="4" fill="#008000"/>
<rect x="243" y="459" width="1" height="7" fill="#008000"/>
<rect x="244" y="460" width="1" height="6" fill="#008000"/>
<rect x="246" y="461" width="1" height="5" fill="#008000"/>
<rect x="247" y="460" width="1" height="6" fill="#008000"/>
<rect x="249" y="459" width="1" height="7" fill="#008000"/>
<rect x="250" y="458" width="1" height="7" fill="#008000"/>
<rect x="251" y="457" width="1" height="5" fill="#ff0000"/>
<rect x="253" y="455" width="1" height="7" fill="#008000"/>
<rect x="254" y="456" width="1" height="4" fill="#008000"/>
<rect x="256" y="449" width="1" height="6" fill="#008000"/>
<rect x="257" y="441" width="1" height="9" fill="#008000"/>
<rect x="258" y="437" width="1" height="10" fill="#008000"/>
<rect x="260" y="437" width="1" height="8" fill="#008000"/>
<rect x="261" y="436" width="1" height="11" fill="#ff0000"/>
<rect x="262" y="440" width="1" height="7" fill="#008000"/>
<rect x="264" y="441" width="1" height="6" fill="#ff0000"/>
<rect x="265" y="439" width="1" height="8" fill="#008000"/>
<rect x="267" y="442" width="1" height="8" fill="#008000"/>
<rect x="268" y="441" width="1" height="8" fill="#008000"/>
<rect x="269" y="442" width="1" height="7" fill="#ff0000"/>
<rect x="271" y="442" width="1" height="8" fill="#ff0000"/>
<rect x="272" y="447" width="1" height="7" fill="#ff0000"/>
<rect x="274" y="449" width="1" height="6" fill="#008000"/>
<rect x="275" y="449" width="1" height="8" fill="#ff0000"/>
<rect x="276" y="450" width="1" height="5" fill="#ff0000"/>
<rect x="278" y="444" width="1" height="12" fill="#ff0000"/>
<rect x="279" y="444" width="1" height="11" fill="#008000"/>
<rect x="281" y="440" width="1" height="9" fill="#ff0000"/>
<rect x="282" y="442" width="1" height="6" fill="#008000"/>
<rect x="283" y="439" width="1" height="8" fill="#008000"/>
<rect x="285" y="441" width="1" height="4" fill="#008000"/>
<rect x="286" y="438" width="1" height="9" fill="#008000"/>
<rect x="287" y="437" width="1" height="8" fill="#ff0000"/>
<rect x="289" y="435" width="1" height="8" fill="#ff0000"/>
<rect x="290" y="436" width="1" height="7" fill="#ff0000"/>
<rect x="292" y="435" width="1" height="8" fill="#ff0000"/>
<rect x="293" y="435" width="1" height="5" fill="#008000"/>
<rect x="294" y="433" width="1" height="8" fill="#008000"/>
<rect x="296" y="429" width="1" height="6" fill="#008000"/>
<rect x="297" y="430" width="1" height="6" fill="#008000"/>
<rect x="299" y="428" width="1" height="5" fill="#008000"/>
<rect x="300" y="428" width="1" height="7" fill="#008000"/>
<rect x="301" y="426" width="1" height="8" fill="#008000"/>
<rect x="303" y="425" width="1" height="10" fill="#008000"/>
<rect x="304" y="425" width="1" height="7" fill="#008000"/>
<rect x="306" y="424" width="1" height="9" fill="#ff0000"/>
<rect x="307" y="425" width="1" height="6" fill="#ff0000"/>
<rect x="308" y="428" width="1" height="6" fill="#008000"/>
<rect x="310" y="426" width="1" height="8" fill="#008000"/>
<rect x="311" y="426" width="1" height="5" fill="#ff0000"/>
<rect x="312" y="428" width="1" height="7" fill="#ff0000"/>
<rect x="314" y="425" width="1" height="8" fill="#ff0000"/>
<rect x="315" y="426" width="1" height="6" fill="#008000"/>
<rect x="317" y="425" width="1" height="7" fill="#008000"/>
<rect x="318" y="425" width="1" height="7" fill="#008000"/>
<rect x="319" y="423" width="1" height="7" fill="#ff0000"/>
<rect x="321" y="421" width="1" height="9" fill="#008000"/>
<rect x="322" y="421" width="1" height="8" fill="#ff0000"/>
<rect x="324" y="423" width="1" height="10" fill="#ff0000"/>
<rect x="325" y="425" width="1" height="8" fill="#ff0000"/>
<rect x="326" y="427" width="1" height="7" fill="#008000"/>
<rect x="328" y="425" width="1" height="6" fill="#008000"/>
<rect x="329" y="425" width="1" height="6" fill="#008000"/>
<rect x="331" y="428" width="1" height="5" fill="#ff0000"/>
<rect x="332" y="429" width="1" height="9" fill="#ff0000"/>
<rect x="333" y="432" width="1" height="3" fill="#ff0000"/>
<rect x="335" y="429" width="1" height="10" fill="#008000"/>
<rect x="336" y="431" width="1" height="5" fill="#008000"/>
<rect x="337" y="430" width="1" height="4" fill="#008000"/>
<rect x="339" y="428" width="1" height="8" fill="#008000"/>
<rect x="340" y="428" width="1" height="8" fill="#008000"/>
<rect x="342" y="426" width="1" height="9" fill="#008000"/>
<rect x="343" y="428" width="1" height="6" fill="#ff0000"/>
<rect x="367" y="426" width="1" height="6" fill="#008000"/>
<rect x="368" y="422" width="1" height="12" fill="#008000"/>
<rect x="369" y="425" width="1" height="7" fill="#ff0000"/>
<rect x="371" y="425" width="1" height="10" fill="#ff0000"/>
<rect x="372" y="421" width="1" height="13" fill="#008000"/>
<rect x="374" y="422" width="1" height="11" fill="#008000"/>
<rect x="375" y="424" width="1" height="8" fill="#008000"/>
<rect x="376" y="423" width="1" height="7" fill="#008000"/>
<rect x="378" y="418" width="1" height="10" fill="#008000"/>
<rect x="379" y="420" width="1" height="11" fill="#008000"/>
<rect x="381" y="418" width="1" height="10" fill="#008000"/>
<rect x="382" y="415" width="1" height="11" fill="#008000"/>
<rect x="383" y="415" width="1" height="11" fill="#008000"/>
<rect x="385" y="412" width="1" height="11" fill="#ff0000"/>
<rect x="386" y="415" width="1" height="6" fill="#008000"/>
<rect x="387" y="410" width="1" height="9" fill="#008000"/>
<rect x="389" y="409" width="1" height="10" fill="#008000"/>
<rect x="390" y="408" width="1" height="9" fill="#008000"/>
<rect x="392" y="409" width="1" height="11" fill="#008000"/>
<rect x="393" y="408" width="1" height="12" fill="#008000"/>
<rect x="394" y="412" width="1" height="8" fill="#ff0000"/>
<rect x="396" y="411" width="1" height="9" fill="#008000"/>
<rect x="397" y="411" width="1" height="6" fill="#008000"/>
<rect x="399" y="409" width="1" height="7" fill="#008000"/>
<rect x="400" y="409" width="1" height="10" fill="#008000"/>
<rect x="401" y="403" width="1" height="13" fill="#008000"/>
<rect x="403" y="404" width="1" height="7" fill="#008000"/>
<rect x="404" y="404" width="1" height="4" fill="#ff0000"/>
<rect x="406" y="400" width="1" height="8" fill="#008000"/>
<rect x="407" y="393" width="1" height="12" fill="#008000"/>
<rect x="408" y="392" width="1" height="10" fill="#008000"/>
<rect x="410" y="387" width="1" height="12" fill="#008000"/>
<rect x="411" y="384" width="1" height="6" fill="#008000"/>
<rect x="412" y="379" width="1" height="7" fill="#008000"/>
<rect x="414" y="374" width="1" height="7" fill="#008000"/>
<rect x="415" y="373" width="1" height="10" fill="#008000"/>
<rect x="417" y="370" width="1" height="9" fill="#ff0000"/>
<rect x="418" y="373" width="1" height="12" fill="#ff0000"/>
<rect x="419" y="375" width="1" height="10" fill="#ff0000"/>
<rect x="421" y="373" width="1" height="11" fill="#ff0000"/>
<rect x="422" y="376" width="1" height="7" fill="#008000"/>
<rect x="424" y="375" width="1" height="9" fill="#008000"/>
<rect x="425" y="372" width="1" height="11" fill="#008000"/>
<rect x="426" y="374" width="1" height="7" fill="#ff0000"/>
<rect x="428" y="373" width="1" height="8" fill="#008000"/>
<rect x="429" y="372" width="1" height="5" fill="#008000"/>
<rect x="431" y="367" width="1" height="12" fill="#ff0000"/>
<rect x="432" y="367" width="1" height="10" fill="#008000"/>
<rect x="433" y="366" width="1" height="11" fill="#ff0000"/>
<rect x="435" y="366" width="1" height="9" fill="#008000"/>
<rect x="436" y="364" width="1" height="12" fill="#008000"/>
<rect x="437" y="365" width="1" height="8" fill="#008000"/>
<rect x="439" y="366" width="1" height="5" fill="#008000"/>
<rect x="440" y="362" width="1" height="11" fill="#008000"/>
<rect x="442" y="356" width="1" height="13" fill="#008000"/>
<rect x="443" y="356" width="1" height="6" fill="#008000"/>
<rect x="444" y="354" width="1" height="5" fill="#008000"/>
<rect x="446" y="352" width="1" height="8" fill="#ff0000"/>
<rect x="447" y="354" width="1" height="7" fill="#ff0000"/>
<rect x="449" y="356" width="1" height="10" fill="#ff0000"/>
<rect x="450" y="358" width="1" height="9" fill="#ff0000"/>
<rect x="451" y="363" width="1" height="5" fill="#ff0000"/>
<rect x="453" y="357" width="1" height="7" fill="#ff0000"/>
<rect x="454" y="358" width="1" height="7" fill="#ff0000"/>
<rect x="456" y="356" width="1" height="7" fill="#008000"/>
<rect x="457" y="356" width="1" height="9" fill="#008000"/>
<rect x="458" y="356" width="1" height="7" fill="#ff0000"/>
<rect x="460" y="345" width="1" height="18" fill="#ff0000"/>
<rect x="461" y="340" width="1" height="14" fill="#ff0000"/>
<rect x="462" y="331" width="1" height="21" fill="#008000"/>
<rect x="464" y="327" width="1" height="9" fill="#008000"/>
<rect x="465" y="325" width="1" height="19" fill="#008000"/>
<rect x="467" y="325" width="1" height="17" fill="#008000"/>
<rect x="468" y="322" width="1" height="16" fill="#008000"/>
<rect x="469" y="322" width="1" height="17" fill="#008000"/>
<rect x="471" y="322" width="1" height="15" fill="#008000"/>
<rect x="472" y="323" width="1" height="15" fill="#008000"/>
<rect x="474" y="323" width="1" height="16" fill="#008000"/>
<rect x="475" y="318" width="1" height="14" fill="#008000"/>
<rect x="476" y="314" width="1" height="17" fill="#008000"/>
<rect x="478" y="316" width="1" height="12" fill="#008000"/>
<rect x="479" y="305" width="1" height="16" fill="#008000"/>
<rect x="481" y="313" width="1" height="10" fill="#008000"/>
<rect x="482" y="313" width="1" height="14" fill="#ff0000"/>
<rect x="483" y="309" width="1" height="23" fill="#008000"/>
<rect x="485" y="314" width="1" height="7" fill="#ff0000"/>
<rect x="486" y="304" width="1" height="18" fill="#008000"/>
<rect x="487" y="313" width="1" height="11" fill="#ff0000"/>
<rect x="489" y="316" width="1" height="15" fill="#008000"/>
<rect x="490" y="318" width="1" height="9" fill="#ff0000"/>
<rect x="492" y="327" width="1" height="6" fill="#ff0000"/>
<rect x="493" y="323" width="1" height="15" fill="#008000"/>
<rect x="494" y="323" width="1" height="13" fill="#008000"/>
<rect x="496" y="318" width="1" height="15" fill="#008000"/>
<rect x="497" y="320" width="1" height="7" fill="#008000"/>
<rect x="499" y="316" width="1" height="6" fill="#008000"/>
<rect x="500" y="309" width="1" height="10" fill="#008000"/>
<rect x="501" y="303" width="1" height="19" fill="#ff0000"/>
<rect x="503" y="307" width="1" height="13" fill="#008000"/>
<rect x="504" y="308" width="1" height="12" fill="#ff0000"/>
<rect x="479" y="296" width="1" height="22" fill="#ff0000"/>
<rect x="0" y="476" width="1" height="7" fill="#008000"/>
<rect x="1" y="472" width="1" height="19" fill="#ff0000"/>
<rect x="2" y="478" width="1" height="10" fill="#ff0000"/>
<rect x="4" y="484" width="1" height="7" fill="#ff0000"/>
<rect x="5" y="485" width="1" height="7" fill="#ff0000"/>
<rect x="6" y="488" width="1" height="6" fill="#ff0000"/>
<rect x="7" y="488" width="1" height="7" fill="#ff0000"/>
<rect x="8" y="490" width="1" height="6" fill="#ff0000"/>
<rect x="9" y="491" width="1" height="6" fill="#ff0000"/>
<rect x="10" y="493" width="1" height="4" fill="#008000"/>
<rect x="11" y="493" width="1" height="4" fill="#008000"/>
<rect x="12" y="494" width="1" height="5" fill="#ff0000"/>
<rect x="13" y="496" width="1" height="3" fill="#ff0000"/>
<rect x="14" y="493" width="1" height="3" fill="#008000"/>
<rect x="15" y="496" width="1" height="9" fill="#ff0000"/>
<rect x="16" y="499" width="1" height="7" fill="#ff0000"/>
<rect x="17" y="502" width="1" height="6" fill="#ff0000"/>
<rect x="18" y="503" width="1" height="8" fill="#ff0000"/>
<rect x="19" y="503" width="1" height="11" fill="#ff0000"/>
<rect x="20" y="505" width="1" height="7" fill="#ff0000"/>
<rect x="21" y="499" width="1" height="8" fill="#008000"/>
<rect x="22" y="498" width="1" height="9" fill="#008000"/>
<rect x="23" y="499" width="1" height="6" fill="#008000"/>
<rect x="344" y="427" width="1" height="7" fill="#ff0000"/>
<rect x="345" y="430" width="1" height="10" fill="#ff0000"/>
<rect x="346" y="435" width="2" height="27" fill="#008000"/>
<rect x="348" y="440" width="1" height="18" fill="#ff0000"/>
<rect x="349" y="441" width="1" height="32" fill="#ff0000"/>
<rect x="350" y="446" width="2" height="12" fill="#ff0000"/>
<rect x="352" y="438" width="2" height="16" fill="#008000"/>
<rect x="354" y="436" width="1" height="11" fill="#008000"/>
<rect x="355" y="433" width="1" height="10" fill="#008000"/>
<rect x="356" y="432" width="1" height="9" fill="#ff0000"/>
<rect x="357" y="430" width="1" height="9" fill="#008000"/>
<rect x="359" y="424" width="1" height="12" fill="#008000"/>
<rect x="360" y="415" width="2" height="17" fill="#008000"/>
<rect x="362" y="413" width="1" height="15" fill="#008000"/>
<rect x="363" y="416" width="2" height="12" fill="#ff0000"/>
<rect x="365" y="418" width="1" height="12" fill="#ff0000"/>
<rect x="506" y="311" width="2" height="12" fill="#008000"/>
<rect x="509" y="310" width="1" height="7" fill="#ff0000"/>
<rect x="510" y="305" width="1" height="13" fill="#008000"/>
<rect x="512" y="292" width="2" height="26" fill="#008000"/>
<rect x="514" y="296" width="1" height="16" fill="#ff0000"/>
<rect x="516" y="290" width="2" height="20" fill="#ff0000"/>
<rect x="518" y="293" width="1" height="11" fill="#008000"/>
<rect x="520" y="285" width="2" height="16" fill="#008000"/>
<rect x="522" y="287" width="1" height="10" fill="#008000"/>
<rect x="524" y="285" width="2" height="11" fill="#008000"/>
<rect x="526" y="284" width="1" height="8" fill="#ff0000"/>
<rect x="527" y="283" width="2" height="17" fill="#ff0000"/>
<rect x="529" y="288" width="1" height="8" fill="#ff0000"/>
<rect x="531" y="296" width="2" height="29" fill="#ff0000"/>
<rect x="533" y="320" width="1" height="17" fill="#008000"/>
<rect x="534" y="318" width="1" height="12" fill="#ff0000"/>
<rect x="535" y="318" width="1" height="15" fill="#ff0000"/>
<rect x="537" y="324" width="1" height="7" fill="#ff0000"/>
<rect x="539" y="313" width="2" height="20" fill="#008000"/>
<rect x="541" y="308" width="1" height="10" fill="#008000"/>
<rect x="542" y="304" width="1" height="9" fill="#008000"/>
<rect x="543" y="309" width="2" height="11" fill="#ff0000"/>
<path d="M-0.5,490.5 L16.2,490.5 L32.9,491.0 L49.7,490.5 L69.5,489.0 L84.5,489.7 L99.5,490.5 L114.5,492.0 L125.5,493.5 L139.5,494.3 L149.5,493.9 L159.5,493.0 L166.5,491.7 L176.5,488.9 L186.5,486.4 L196.5,483.8 L203.5,482.5 L209.5,481.1 L219.6,479.4 L229.6,478.1 L239.6,476.8 L249.7,473.9 L259.7,471.1 L269.7,467.7 L279.8,463.9 L289.8,459.7 L299.8,456.5 L309.5,454.4 L319.6,451.8 L329.6,448.9 L339.6,446.4 L349.7,444.7 L359.7,442.2 L369.7,439.4 L379.8,436.4 L389.8,433.4 L399.8,431.0 L410.2,427.0 L421.0,421.6 L431.7,417.1 L442.5,412.6 L453.2,408.2 L464.0,402.8 L474.7,394.7 L485.5,384.9 L496.2,375.9 L506.4,366.0 L513.0,361.0 L519.7,355.1 L526.4,349.3 L533.1,344.3 L539.8,340.1 L542.8,338.4M0.5,490.5 L17.2,490.5 L33.9,491.0 L50.7,490.5 L70.5,489.0 L85.5,489.7 L100.5,490.5 L115.5,492.0 L126.5,493.5 L140.5,494.3 L150.5,493.9 L160.5,493.0 L167.5,491.7 L177.5,488.9 L187.5,486.4 L197.5,483.8 L204.5,482.5 L210.5,481.1 L220.6,479.4 L230.6,478.1 L240.6,476.8 L250.7,473.9 L260.7,471.1 L270.7,467.7 L280.8,463.9 L290.8,459.7 L300.8,456.5 L310.5,454.4 L320.6,451.8 L330.6,448.9 L340.6,446.4 L350.7,444.7 L360.7,442.2 L370.7,439.4 L380.8,436.4 L390.8,433.4 L400.8,431.0 L411.2,427.0 L422.0,421.6 L432.7,417.1 L443.5,412.6 L454.2,408.2 L465.0,402.8 L475.7,394.7 L486.5,384.9 L497.2,375.9 L507.4,366.0 L514.0,361.0 L520.7,355.1 L527.4,349.3 L534.1,344.3 L540.8,340.1 L543.8,338.4M-0.5,491.5 L16.2,491.5 L32.9,492.0 L49.7,491.5 L69.5,490.0 L84.5,490.7 L99.5,491.5 L114.5,493.0 L125.5,494.5 L139.5,495.3 L149.5,494.9 L159.5,494.0 L166.5,492.7 L176.5,489.9 L186.5,487.4 L196.5,484.8 L203.5,483.5 L209.5,482.1 L219.6,480.4 L229.6,479.1 L239.6,477.8 L249.7,474.9 L259.7,472.1 L269.7,468.7 L279.8,464.9 L289.8,460.7 L299.8,457.5 L309.5,455.4 L319.6,452.8 L329.6,449.9 L339.6,447.4 L349.7,445.7 L359.7,443.2 L369.7,440.4 L379.8,437.4 L389.8,434.4 L399.8,432.0 L410.2,428.0 L421.0,422.6 L431.7,418.1 L442.5,413.6 L453.2,409.2 L464.0,403.8 L474.7,395.7 L485.5,385.9 L496.2,376.9 L506.4,367.0 L513.0,362.0 L519.7,356.1 L526.4,350.3 L533.1,345.3 L539.8,341.1 L542.8,339.4M0.5,491.5 L17.2,491.5 L33.9,492.0 L50.7,491.5 L70.5,490.0 L85.5,490.7 L100.5,491.5 L115.5,493.0 L126.5,494.5 L140.5,495.3 L150.5,494.9 L160.5,494.0 L167.5,492.7 L177.5,489.9 L187.5,487.4 L197.5,484.8 L204.5,483.5 L210.5,482.1 L220.6,480.4 L230.6,479.1 L240.6,477.8 L250.7,474.9 L260.7,472.1 L270.7,468.7 L280.8,464.9 L290.8,460.7 L300.8,457.5 L310.5,455.4 L320.6,452.8 L330.6,449.9 L340.6,447.4 L350.7,445.7 L360.7,443.2 L370.7,440.4 L380.8,437.4 L390.8,434.4 L400.8,432.0 L411.2,428.0 L422.0,422.6 L432.7,418.1 L443.5,413.6 L454.2,409.2 L465.0,403.8 L475.7,395.7 L486.5,385.9 L497.2,376.9 L507.4,367.0 L514.0,362.0 L520.7,356.1 L527.4,350.3 L534.1,345.3 L540.8,341.1 L543.8,339.4" stroke="#ff0000" stroke-width="1" fill="none"/>
<path d="M-0.5,483.0 L4.5,483.3 L11.2,483.8 L17.9,485.5 L24.6,487.2 L31.3,488.8 L38.0,491.7 L44.7,493.8 L51.3,495.5 L58.0,496.4 L66.4,496.4 L74.8,496.0 L80.7,494.8 L92.0,492.6 L103.2,491.2 L114.5,490.6 L125.7,490.9 L132.9,491.4 L143.0,492.2 L153.0,491.7 L163.0,491.4 L169.7,489.7 L176.4,487.2 L183.1,483.8 L188.1,481.3 L191.5,478.0 L196.5,476.0 L201.5,474.3 L206.2,471.4 L212.9,468.1 L219.6,465.6 L229.6,463.9 L239.6,463.0 L249.7,462.7 L259.7,461.4 L269.7,459.4 L279.8,458.4 L286.5,457.2 L293.1,453.0 L299.8,450.2 L306.2,446.4 L312.9,443.1 L319.6,439.7 L324.6,437.2 L332.9,435.5 L343.0,433.4 L353.0,432.7 L363.0,431.4 L373.1,430.5 L383.1,429.3 L393.1,428.0 L399.5,427.3 L406.7,425.2 L412.0,421.6 L417.4,415.3 L424.6,409.1 L431.7,403.7 L438.9,397.4 L446.1,392.0 L453.2,385.8 L460.4,379.5 L467.6,371.4 L472.9,363.5 L479.6,357.7 L486.3,351.8 L493.0,345.9 L499.7,341.8 L506.4,335.9 L513.0,330.9 L519.7,324.2 L524.8,319.2 L529.8,314.7 L536.5,314.2 L540.6,313.3 L542.8,311.7M0.5,483.0 L5.5,483.3 L12.2,483.8 L18.9,485.5 L25.6,487.2 L32.3,488.8 L39.0,491.7 L45.7,493.8 L52.3,495.5 L59.0,496.4 L67.4,496.4 L75.8,496.0 L81.7,494.8 L93.0,492.6 L104.2,491.2 L115.5,490.6 L126.7,490.9 L133.9,491.4 L144.0,492.2 L154.0,491.7 L164.0,491.4 L170.7,489.7 L177.4,487.2 L184.1,483.8 L189.1,481.3 L192.5,478.0 L197.5,476.0 L202.5,474.3 L207.2,471.4 L213.9,468.1 L220.6,465.6 L230.6,463.9 L240.6,463.0 L250.7,462.7 L260.7,461.4 L270.7,459.4 L280.8,458.4 L287.5,457.2 L294.1,453.0 L300.8,450.2 L307.2,446.4 L313.9,443.1 L320.6,439.7 L325.6,437.2 L333.9,435.5 L344.0,433.4 L354.0,432.7 L364.0,431.4 L374.1,430.5 L384.1,429.3 L394.1,428.0 L400.5,427.3 L407.7,425.2 L413.0,421.6 L418.4,415.3 L425.6,409.1 L432.7,403.7 L439.9,397.4 L447.1,392.0 L454.2,385.8 L461.4,379.5 L468.6,371.4 L473.9,363.5 L480.6,357.7 L487.3,351.8 L494.0,345.9 L500.7,341.8 L507.4,335.9 L514.0,330.9 L520.7,324.2 L525.8,319.2 L530.8,314.7 L537.5,314.2 L541.6,313.3 L543.8,311.7M-0.5,484.0 L4.5,484.3 L11.2,484.8 L17.9,486.5 L24.6,488.2 L31.3,489.8 L38.0,492.7 L44.7,494.8 L51.3,496.5 L58.0,497.4 L66.4,497.4 L74.8,497.0 L80.7,495.8 L92.0,493.6 L103.2,492.2 L114.5,491.6 L125.7,491.9 L132.9,492.4 L143.0,493.2 L153.0,492.7 L163.0,492.4 L169.7,490.7 L176.4,488.2 L183.1,484.8 L188.1,482.3 L191.5,479.0 L196.5,477.0 L201.5,475.3 L206.2,472.4 L212.9,469.1 L219.6,466.6 L229.6,464.9 L239.6,464.0 L249.7,463.7 L259.7,462.4 L269.7,460.4 L279.8,459.4 L286.5,458.2 L293.1,454.0 L299.8,451.2 L306.2,447.4 L312.9,444.1 L319.6,440.7 L324.6,438.2 L332.9,436.5 L343.0,434.4 L353.0,433.7 L363.0,432.4 L373.1,431.5 L383.1,430.3 L393.1,429.0 L399.5,428.3 L406.7,426.2 L412.0,422.6 L417.4,416.3 L424.6,410.1 L431.7,404.7 L438.9,398.4 L446.1,393.0 L453.2,386.8 L460.4,380.5 L467.6,372.4 L472.9,364.5 L479.6,358.7 L486.3,352.8 L493.0,346.9 L499.7,342.8 L506.4,336.9 L513.0,331.9 L519.7,325.2 L524.8,320.2 L529.8,315.7 L536.5,315.2 L540.6,314.3 L542.8,312.7M0.5,484.0 L5.5,484.3 L12.2,484.8 L18.9,486.5 L25.6,488.2 L32.3,489.8 L39.0,492.7 L45.7,494.8 L52.3,496.5 L59.0,497.4 L67.4,497.4 L75.8,497.0 L81.7,495.8 L93.0,493.6 L104.2,492.2 L115.5,491.6 L126.7,491.9 L133.9,492.4 L144.0,493.2 L154.0,492.7 L164.0,492.4 L170.7,490.7 L177.4,488.2 L184.1,484.8 L189.1,482.3 L192.5,479.0 L197.5,477.0 L202.5,475.3 L207.2,472.4 L213.9,469.1 L220.6,466.6 L230.6,464.9 L240.6,464.0 L250.7,463.7 L260.7,462.4 L270.7,460.4 L280.8,459.4 L287.5,458.2 L294.1,454.0 L300.8,451.2 L307.2,447.4 L313.9,444.1 L320.6,440.7 L325.6,438.2 L333.9,436.5 L344.0,434.4 L354.0,433.7 L364.0,432.4 L374.1,431.5 L384.1,430.3 L394.1,429.0 L400.5,428.3 L407.7,426.2 L413.0,422.6 L418.4,416.3 L425.6,410.1 L432.7,404.7 L439.9,398.4 L447.1,393.0 L454.2,386.8 L461.4,380.5 L468.6,372.4 L473.9,364.5 L480.6,358.7 L487.3,352.8 L494.0,346.9 L500.7,342.8 L507.4,336.9 L514.0,331.9 L520.7,325.2 L525.8,320.2 L530.8,315.7 L537.5,315.2 L541.6,314.3 L543.8,312.7" stroke="#000" stroke-width="1" fill="none"/>
<path d="M0,624h1V646h-1zM1,624h2V646h-2zM3,624h1V646h-1zM4,626h2V646h-2zM6,624h1V646h-1zM7,624h1V646h-1zM8,630h2V646h-2zM10,631h1V646h-1zM11,633h1V646h-1zM12,634h2V646h-2zM14,627h1V646h-1zM15,624h2V646h-2zM17,625h1V646h-1zM18,624h1V646h-1zM19,626h2V646h-2zM21,631h1V646h-1zM22,633h2V646h-2zM24,636h1V646h-1zM25,638h1V646h-1zM26,637h2V646h-2zM28,639h1V646h-1zM29,638h2V646h-2zM31,640h1V646h-1zM32,639h1V646h-1zM33,639h2V646h-2zM35,638h1V646h-1zM36,637h1V646h-1zM37,638h2V646h-2zM39,638h1V646h-1zM40,639h2V646h-2zM42,637h1V646h-1zM43,640h1V646h-1zM44,641h2V646h-2zM46,639h1V646h-1zM47,638h2V646h-2zM49,640h1V646h-1zM50,638h1V646h-1zM51,639h2V646h-2zM53,638h1V646h-1zM54,637h2V646h-2zM56,637h1V646h-1zM57,636h1V646h-1zM58,637h2V646h-2zM60,636h1V646h-1zM61,635h1V646h-1zM62,634h2V646h-2zM64,636h1V646h-1zM65,634h2V646h-2zM67,636h1V646h-1zM68,635h1V646h-1zM69,635h2V646h-2zM71,634h1V646h-1zM72,637h2V646h-2zM74,636h1V646h-1zM75,635h1V646h-1zM76,633h2V646h-2zM78,636h1V646h-1zM79,634h2V646h-2zM81,636h1V646h-1zM82,636h1V646h-1zM83,637h2V646h-2zM85,638h1V646h-1zM86,638h1V646h-1zM87,639h2V646h-2zM89,639h1V646h-1zM90,641h2V646h-2zM92,640h1V646h-1zM93,641h1V646h-1zM94,640h2V646h-2zM96,639h1V646h-1zM97,640h2V646h-2zM99,640h1V646h-1zM100,642h1V646h-1zM101,641h2V646h-2zM103,639h1V646h-1zM104,641h2V646h-2zM106,640h1V646h-1zM107,642h1V646h-1zM108,639h2V646h-2zM110,640h1V646h-1zM111,640h1V646h-1zM112,640h2V646h-2zM114,641h1V646h-1zM115,640h2V646h-2zM117,640h1V646h-1zM118,639h1V646h-1zM119,639h2V646h-2zM121,639h1V646h-1zM122,642h2V646h-2zM124,641h1V646h-1zM125,641h1V646h-1zM126,642h2V646h-2zM128,640h1V646h-1zM129,642h2V646h-2zM131,642h1V646h-1zM132,639h1V646h-1zM133,640h2V646h-2zM135,642h1V646h-1zM136,640h1V646h-1zM137,641h2V646h-2zM139,640h1V646h-1zM140,642h2V646h-2zM142,640h1V646h-1zM143,639h1V646h-1zM144,641h2V646h-2zM146,640h1V646h-1zM147,642h2V646h-2zM149,641h1V646h-1zM150,642h1V646h-1zM151,642h2V646h-2zM153,640h1V646h-1zM154,640h2V646h-2zM156,640h1V646h-1zM157,641h1V646h-1zM158,640h2V646h-2zM160,641h1V646h-1zM161,639h1V646h-1zM162,640h2V646h-2zM164,641h1V646h-1zM165,639h2V646h-2zM167,639h1V646h-1zM168,638h1V646h-1zM169,639h2V646h-2zM171,635h1V646h-1zM172,634h2V646h-2zM174,634h1V646h-1zM175,633h1V646h-1zM176,634h2V646h-2zM178,633h1V646h-1zM179,635h2V646h-2zM181,634h1V646h-1zM182,634h1V646h-1zM183,634h2V646h-2zM185,633h1V646h-1zM186,634h1V646h-1zM187,632h2V646h-2zM189,633h1V646h-1zM190,631h2V646h-2zM192,633h1V646h-1zM193,630h1V646h-1zM194,632h2V646h-2zM196,631h1V646h-1zM197,630h2V646h-2zM199,631h1V646h-1zM200,634h1V646h-1zM201,632h2V646h-2zM203,630h1V646h-1zM204,631h2V646h-2zM206,638h1V646h-1zM207,639h1V646h-1zM208,638h2V646h-2zM210,638h1V646h-1zM211,639h1V646h-1zM212,634h2V646h-2zM214,634h1V646h-1zM215,637h2V646h-2zM217,636h1V646h-1zM218,638h1V646h-1zM219,636h2V646h-2zM221,636h1V646h-1zM222,638h2V646h-2zM224,639h1V646h-1zM225,639h1V646h-1zM226,638h2V646h-2zM228,640h1V646h-1zM229,640h2V646h-2zM231,640h1V646h-1zM232,641h1V646h-1zM233,639h2V646h-2zM235,639h1V646h-1zM236,642h1V646h-1zM237,642h2V646h-2zM239,639h1V646h-1zM240,641h2V646h-2zM242,640h1V646h-1zM243,641h1V646h-1zM244,640h2V646h-2zM246,640h1V646h-1zM247,639h2V646h-2zM249,641h1V646h-1zM250,639h1V646h-1zM251,640h2V646h-2zM253,641h1V646h-1zM254,641h2V646h-2zM256,641h1V646h-1zM257,641h1V646h-1zM258,642h2V646h-2zM260,640h1V646h-1zM261,642h1V646h-1zM262,642h2V646h-2zM264,640h1V646h-1zM265,641h2V646h-2zM267,642h1V646h-1zM268,639h1V646h-1zM269,640h2V646h-2zM271,640h1V646h-1zM272,640h2V646h-2zM274,640h1V646h-1zM275,640h1V646h-1zM276,642h2V646h-2zM278,642h1V646h-1zM279,640h2V646h-2zM281,642h1V646h-1zM282,639h1V646h-1zM283,640h2V646h-2zM285,639h1V646h-1zM286,640h1V646h-1zM287,639h2V646h-2zM289,641h1V646h-1zM290,641h2V646h-2zM292,640h1V646h-1zM293,639h1V646h-1zM294,642h2V646h-2zM296,641h1V646h-1zM297,642h2V646h-2zM299,640h1V646h-1zM300,639h1V646h-1zM301,641h2V646h-2zM303,639h1V646h-1zM304,640h2V646h-2zM306,639h1V646h-1zM307,639h1V646h-1zM308,640h2V646h-2zM310,639h1V646h-1zM311,641h1V646h-1zM312,640h2V646h-2zM314,642h1V646h-1zM315,640h2V646h-2zM317,641h1V646h-1zM318,639h1V646h-1zM319,641h2V646h-2zM321,641h1V646h-1zM322,640h2V646h-2zM324,640h1V646h-1zM325,641h1V646h-1zM326,640h2V646h-2zM328,642h1V646h-1zM329,642h2V646h-2zM331,641h1V646h-1zM332,639h1V646h-1zM333,641h2V646h-2zM335,640h1V646h-1zM336,641h1V646h-1zM337,639h2V646h-2zM339,640h1V646h-1zM340,640h2V646h-2zM342,641h1V646h-1zM343,639h1V646h-1zM344,635h2V646h-2zM346,631h1V646h-1zM347,631h2V646h-2zM349,632h1V646h-1zM350,644h1V646h-1zM351,630h2V646h-2zM353,630h1V646h-1zM354,632h2V646h-2zM356,631h1V646h-1zM357,631h1V646h-1zM358,631h2V646h-2zM360,632h1V646h-1zM361,632h1V646h-1zM362,632h2V646h-2zM364,633h1V646h-1zM365,632h2V646h-2zM367,638h1V646h-1zM368,639h1V646h-1zM369,640h2V646h-2zM371,639h1V646h-1zM372,638h2V646h-2zM374,634h1V646h-1zM375,633h1V646h-1zM376,635h2V646h-2zM378,635h1V646h-1zM379,635h2V646h-2zM381,636h1V646h-1zM382,637h1V646h-1zM383,636h2V646h-2zM385,634h1V646h-1zM386,634h1V646h-1zM387,636h2V646h-2zM389,638h1V646h-1zM390,638h2V646h-2zM392,637h1V646h-1zM393,639h1V646h-1zM394,638h2V646h-2zM396,636h1V646h-1zM397,637h2V646h-2zM399,636h1V646h-1zM400,637h1V646h-1zM401,638h2V646h-2zM403,638h1V646h-1zM404,638h2V646h-2zM406,636h1V646h-1zM407,636h1V646h-1zM408,638h2V646h-2zM410,639h1V646h-1zM411,636h1V646h-1zM412,637h2V646h-2zM414,639h1V646h-1zM415,640h2V646h-2zM417,638h1V646h-1zM418,640h1V646h-1zM419,640h2V646h-2zM421,639h1V646h-1zM422,639h2V646h-2zM424,639h1V646h-1zM425,638h1V646h-1zM426,639h2V646h-2zM428,640h1V646h-1zM429,640h2V646h-2zM431,640h1V646h-1zM432,639h1V646h-1zM433,640h2V646h-2zM435,640h1V646h-1zM436,641h1V646h-1zM437,640h2V646h-2zM439,641h1V646h-1zM440,640h2V646h-2zM442,641h1V646h-1zM443,640h1V646h-1zM444,638h2V646h-2zM446,637h1V646h-1zM447,637h2V646h-2zM449,639h1V646h-1zM450,638h1V646h-1zM451,638h2V646h-2zM453,638h1V646h-1zM454,638h2V646h-2zM456,639h1V646h-1zM457,636h1V646h-1zM458,638h2V646h-2zM460,637h1V646h-1zM461,637h1V646h-1zM462,637h2V646h-2zM464,635h1V646h-1zM465,637h2V646h-2zM467,634h1V646h-1zM468,634h1V646h-1zM469,634h2V646h-2zM471,635h1V646h-1zM472,634h2V646h-2zM474,633h1V646h-1zM475,633h1V646h-1zM476,633h2V646h-2zM478,632h1V646h-1zM479,632h2V646h-2zM481,634h1V646h-1zM482,636h1V646h-1zM483,633h2V646h-2zM485,635h1V646h-1zM486,635h1V646h-1zM487,635h2V646h-2zM489,635h1V646h-1zM490,637h2V646h-2zM492,636h1V646h-1zM493,636h1V646h-1zM494,638h2V646h-2zM496,638h1V646h-1zM497,637h2V646h-2zM499,638h1V646h-1zM500,637h1V646h-1zM501,640h2V646h-2zM503,640h1V646h-1zM504,638h2V646h-2zM506,638h1V646h-1zM507,639h1V646h-1zM508,639h2V646h-2zM510,640h1V646h-1zM511,640h1V646h-1zM512,638h2V646h-2zM514,640h1V646h-1zM515,639h2V646h-2zM517,639h1V646h-1zM518,640h1V646h-1zM519,639h2V646h-2zM521,640h1V646h-1zM522,640h2V646h-2zM524,640h1V646h-1zM525,640h1V646h-1zM526,638h2V646h-2zM528,640h1V646h-1zM529,640h2V646h-2zM531,639h1V646h-1zM532,640h1V646h-1zM533,638h2V646h-2zM535,639h1V646h-1zM536,640h1V646h-1zM537,639h2V646h-2zM539,638h1V646h-1zM540,639h2V646h-2zM542,639h1V646h-1zM543,640h1V646h-1zM5,621h2V646h-2zM48,620h2V646h-2zM57,620h2V646h-2zM61,618h2V646h-2zM40,631h2V646h-2zM54,631h2V646h-2zM69,628h2V646h-2zM74,627h2V646h-2zM77,627h2V646h-2zM100,623h2V646h-2zM107,634h2V646h-2zM118,627h2V646h-2zM143,623h2V646h-2zM159,632h2V646h-2zM162,625h2V646h-2zM165,624h2V646h-2zM166,620h2V646h-2zM167,623h2V646h-2zM169,627h2V646h-2zM174,628h2V646h-2zM181,627h2V646h-2zM188,621h2V646h-2zM189,616h2V646h-2zM195,617h2V646h-2zM211,616h2V646h-2zM236,634h2V646h-2zM252,636h2V646h-2zM255,624h2V646h-2zM257,631h2V646h-2zM270,632h2V646h-2zM286,634h2V646h-2zM292,627h2V646h-2zM308,632h2V646h-2zM319,632h2V646h-2zM323,631h2V646h-2zM329,635h2V646h-2zM344,565h2V646h-2zM345,611h2V646h-2zM347,601h2V646h-2zM348,618h2V646h-2zM351,605h2V646h-2zM352,628h2V646h-2zM359,615h2V646h-2zM360,617h2V646h-2zM363,624h2V646h-2zM380,629h2V646h-2zM385,611h2V646h-2zM401,631h2V646h-2zM404,632h2V646h-2zM407,627h2V646h-2zM427,632h2V646h-2zM442,622h2V646h-2zM447,632h2V646h-2zM452,624h2V646h-2zM455,629h2V646h-2zM459,615h2V646h-2zM474,623h2V646h-2zM475,622h2V646h-2zM478,625h2V646h-2zM501,632h2V646h-2zM512,629h2V646h-2z" fill="#008000"/>
<rect x="2" y="553" width="2" height="93" fill="#008000"/>
<rect x="0" y="615" width="1" height="31" fill="#008000"/>
<path d="M-0.5,626.4 L2.8,622.3 L7.9,620.6 L16.2,621.4 L24.6,622.3 L29.6,628.1 L34.6,632.3 L41.3,634.8 L49.7,635.6 L58.0,634.8 L63.0,632.3 L69.7,631.5 L76.4,631.1 L83.1,630.6 L88.1,634.0 L94.8,635.6 L103.5,636.5 L112.9,636.1 L126.3,635.6 L132.9,637.3 L149.7,637.3 L154.7,638.5 L164.7,637.3 L169.7,634.0 L178.1,632.3 L186.5,630.1 L190.6,628.1 L194.8,629.4 L203.5,629.4 L206.2,631.1 L213.7,630.6 L221.2,632.8 L229.6,636.1 L238.0,636.8 L246.3,639.5 L253.0,639.0 L258.0,637.0 L269.7,637.3 L273.1,636.1 L283.1,636.5 L303.5,637.3 L322.9,637.3 L326.3,636.1 L343.0,636.1 L346.3,631.5 L353.0,628.1 L359.7,626.8 L364.7,623.4 L369.7,623.9 L373.1,628.9 L378.1,631.8 L386.5,632.8 L393.1,634.5 L399.8,633.8 L411.2,634.8 L422.9,636.1 L438.0,636.5 L443.0,637.0 L449.7,635.6 L456.4,634.0 L463.0,631.5 L473.1,632.0 L477.3,630.3 L484.8,630.6 L489.8,632.3 L501.2,633.1 L504.6,635.6 L509.6,637.0 L541.4,637.3 L543.0,638.5M0.5,626.4 L3.8,622.3 L8.9,620.6 L17.2,621.4 L25.6,622.3 L30.6,628.1 L35.6,632.3 L42.3,634.8 L50.7,635.6 L59.0,634.8 L64.0,632.3 L70.7,631.5 L77.4,631.1 L84.1,630.6 L89.1,634.0 L95.8,635.6 L104.5,636.5 L113.9,636.1 L127.3,635.6 L133.9,637.3 L150.7,637.3 L155.7,638.5 L165.7,637.3 L170.7,634.0 L179.1,632.3 L187.5,630.1 L191.6,628.1 L195.8,629.4 L204.5,629.4 L207.2,631.1 L214.7,630.6 L222.2,632.8 L230.6,636.1 L239.0,636.8 L247.3,639.5 L254.0,639.0 L259.0,637.0 L270.7,637.3 L274.1,636.1 L284.1,636.5 L304.5,637.3 L323.9,637.3 L327.3,636.1 L344.0,636.1 L347.3,631.5 L354.0,628.1 L360.7,626.8 L365.7,623.4 L370.7,623.9 L374.1,628.9 L379.1,631.8 L387.5,632.8 L394.1,634.5 L400.8,633.8 L412.2,634.8 L423.9,636.1 L439.0,636.5 L444.0,637.0 L450.7,635.6 L457.4,634.0 L464.0,631.5 L474.1,632.0 L478.3,630.3 L485.8,630.6 L490.8,632.3 L502.2,633.1 L505.6,635.6 L510.6,637.0 L542.4,637.3 L544.0,638.5M-0.5,627.4 L2.8,623.3 L7.9,621.6 L16.2,622.4 L24.6,623.3 L29.6,629.1 L34.6,633.3 L41.3,635.8 L49.7,636.6 L58.0,635.8 L63.0,633.3 L69.7,632.5 L76.4,632.1 L83.1,631.6 L88.1,635.0 L94.8,636.6 L103.5,637.5 L112.9,637.1 L126.3,636.6 L132.9,638.3 L149.7,638.3 L154.7,639.5 L164.7,638.3 L169.7,635.0 L178.1,633.3 L186.5,631.1 L190.6,629.1 L194.8,630.4 L203.5,630.4 L206.2,632.1 L213.7,631.6 L221.2,633.8 L229.6,637.1 L238.0,637.8 L246.3,640.5 L253.0,640.0 L258.0,638.0 L269.7,638.3 L273.1,637.1 L283.1,637.5 L303.5,638.3 L322.9,638.3 L326.3,637.1 L343.0,637.1 L346.3,632.5 L353.0,629.1 L359.7,627.8 L364.7,624.4 L369.7,624.9 L373.1,629.9 L378.1,632.8 L386.5,633.8 L393.1,635.5 L399.8,634.8 L411.2,635.8 L422.9,637.1 L438.0,637.5 L443.0,638.0 L449.7,636.6 L456.4,635.0 L463.0,632.5 L473.1,633.0 L477.3,631.3 L484.8,631.6 L489.8,633.3 L501.2,634.1 L504.6,636.6 L509.6,638.0 L541.4,638.3 L543.0,639.5M0.5,627.4 L3.8,623.3 L8.9,621.6 L17.2,622.4 L25.6,623.3 L30.6,629.1 L35.6,633.3 L42.3,635.8 L50.7,636.6 L59.0,635.8 L64.0,633.3 L70.7,632.5 L77.4,632.1 L84.1,631.6 L89.1,635.0 L95.8,636.6 L104.5,637.5 L113.9,637.1 L127.3,636.6 L133.9,638.3 L150.7,638.3 L155.7,639.5 L165.7,638.3 L170.7,635.0 L179.1,633.3 L187.5,631.1 L191.6,629.1 L195.8,630.4 L204.5,630.4 L207.2,632.1 L214.7,631.6 L222.2,633.8 L230.6,637.1 L239.0,637.8 L247.3,640.5 L254.0,640.0 L259.0,638.0 L270.7,638.3 L274.1,637.1 L284.1,637.5 L304.5,638.3 L323.9,638.3 L327.3,637.1 L344.0,637.1 L347.3,632.5 L354.0,629.1 L360.7,627.8 L365.7,624.4 L370.7,624.9 L374.1,629.9 L379.1,632.8 L387.5,633.8 L394.1,635.5 L400.8,634.8 L412.2,635.8 L423.9,637.1 L439.0,637.5 L444.0,638.0 L450.7,636.6 L457.4,635.0 L464.0,632.5 L474.1,633.0 L478.3,631.3 L485.8,631.6 L490.8,633.3 L502.2,634.1 L505.6,636.6 L510.6,638.0 L542.4,638.3 L544.0,639.5" stroke="#ff0000" stroke-width="1" fill="none"/>
<rect x="0" y="120" width="623" height="1" fill="#f0f0f0"/>
<rect x="0" y="121" width="623" height="1" fill="#fff"/>
<rect x="0" y="122" width="623" height="1" fill="#a0a0a0"/>
<rect x="0" y="123" width="623" height="1" fill="#696969"/>
<rect x="0" y="247" width="623" height="1" fill="#f0f0f0"/>
<rect x="0" y="248" width="623" height="1" fill="#fff"/>
<rect x="0" y="249" width="623" height="1" fill="#a0a0a0"/>
<rect x="0" y="250" width="623" height="1" fill="#696969"/>
<rect x="0" y="541" width="623" height="1" fill="#f0f0f0"/>
<rect x="0" y="542" width="623" height="1" fill="#fff"/>
<rect x="0" y="543" width="623" height="1" fill="#a0a0a0"/>
<rect x="0" y="544" width="623" height="1" fill="#696969"/>
<rect x="573" y="0" width="1" height="120" fill="#000"/>
<rect x="573" y="124" width="1" height="123" fill="#000"/>
<rect x="573" y="251" width="1" height="290" fill="#000"/>
<rect x="573" y="545" width="1" height="109" fill="#000"/>
<rect x="574" y="113" width="8" height="1" fill="#000"/>
<rect x="574" y="101" width="3" height="1" fill="#000"/>
<rect x="574" y="89" width="3" height="1" fill="#000"/>
<rect x="574" y="78" width="3" height="1" fill="#000"/>
<rect x="574" y="66" width="3" height="1" fill="#000"/>
<rect x="574" y="54" width="8" height="1" fill="#000"/>
<rect x="574" y="43" width="3" height="1" fill="#000"/>
<rect x="574" y="31" width="3" height="1" fill="#000"/>
<rect x="574" y="20" width="3" height="1" fill="#000"/>
<rect x="574" y="8" width="3" height="1" fill="#000"/>
<rect x="574" y="244" width="3" height="1" fill="#000"/>
<rect x="574" y="240" width="8" height="1" fill="#000"/>
<rect x="574" y="236" width="3" height="1" fill="#000"/>
<rect x="574" y="233" width="3" height="1" fill="#000"/>
<rect x="574" y="229" width="3" height="1" fill="#000"/>
<rect x="574" y="225" width="3" height="1" fill="#000"/>
<rect x="574" y="221" width="8" height="1" fill="#000"/>
<rect x="574" y="218" width="3" height="1" fill="#000"/>
<rect x="574" y="214" width="3" height="1" fill="#000"/>
<rect x="574" y="210" width="3" height="1" fill="#000"/>
<rect x="574" y="207" width="3" height="1" fill="#000"/>
<rect x="574" y="203" width="8" height="1" fill="#000"/>
<rect x="574" y="199" width="3" height="1" fill="#000"/>
<rect x="574" y="195" width="3" height="1" fill="#000"/>
<rect x="574" y="192" width="3" height="1" fill="#000"/>
<rect x="574" y="188" width="3" height="1" fill="#000"/>
<rect x="574" y="184" width="8" height="1" fill="#000"/>
<rect x="574" y="180" width="3" height="1" fill="#000"/>
<rect x="574" y="177" width="3" height="1" fill="#000"/>
<rect x="574" y="173" width="3" height="1" fill="#000"/>
<rect x="574" y="169" width="3" height="1" fill="#000"/>
<rect x="574" y="166" width="8" height="1" fill="#000"/>
<rect x="574" y="162" width="3" height="1" fill="#000"/>
<rect x="574" y="158" width="3" height="1" fill="#000"/>
<rect x="574" y="154" width="3" height="1" fill="#000"/>
<rect x="574" y="151" width="3" height="1" fill="#000"/>
<rect x="574" y="147" width="8" height="1" fill="#000"/>
<rect x="574" y="143" width="3" height="1" fill="#000"/>
<rect x="574" y="140" width="3" height="1" fill="#000"/>
<rect x="574" y="136" width="3" height="1" fill="#000"/>
<rect x="574" y="132" width="3" height="1" fill="#000"/>
<rect x="574" y="128" width="8" height="1" fill="#000"/>
<rect x="574" y="535" width="3" height="1" fill="#000"/>
<rect x="574" y="529" width="3" height="1" fill="#000"/>
<rect x="574" y="522" width="8" height="1" fill="#000"/>
<rect x="574" y="515" width="3" height="1" fill="#000"/>
<rect x="574" y="509" width="3" height="1" fill="#000"/>
<rect x="574" y="502" width="3" height="1" fill="#000"/>
<rect x="574" y="496" width="3" height="1" fill="#000"/>
<rect x="574" y="489" width="8" height="1" fill="#000"/>
<rect x="574" y="482" width="3" height="1" fill="#000"/>
<rect x="574" y="476" width="3" height="1" fill="#000"/>
<rect x="574" y="469" width="3" height="1" fill="#000"/>
<rect x="574" y="463" width="3" height="1" fill="#000"/>
<rect x="574" y="456" width="8" height="1" fill="#000"/>
<rect x="574" y="449" width="3" height="1" fill="#000"/>
<rect x="574" y="443" width="3" height="1" fill="#000"/>
<rect x="574" y="436" width="3" height="1" fill="#000"/>
<rect x="574" y="430" width="3" height="1" fill="#000"/>
<rect x="574" y="423" width="8" height="1" fill="#000"/>
<rect x="574" y="416" width="3" height="1" fill="#000"/>
<rect x="574" y="410" width="3" height="1" fill="#000"/>
<rect x="574" y="403" width="3" height="1" fill="#000"/>
<rect x="574" y="397" width="3" height="1" fill="#000"/>
<rect x="574" y="390" width="8" height="1" fill="#000"/>
<rect x="574" y="383" width="3" height="1" fill="#000"/>
<rect x="574" y="377" width="3" height="1" fill="#000"/>
<rect x="574" y="370" width="3" height="1" fill="#000"/>
<rect x="574" y="364" width="3" height="1" fill="#000"/>
<rect x="574" y="357" width="8" height="1" fill="#000"/>
<rect x="574" y="350" width="3" height="1" fill="#000"/>
<rect x="574" y="344" width="3" height="1" fill="#000"/>
<rect x="574" y="337" width="3" height="1" fill="#000"/>
<rect x="574" y="331" width="3" height="1" fill="#000"/>
<rect x="574" y="324" width="8" height="1" fill="#000"/>
<rect x="574" y="317" width="3" height="1" fill="#000"/>
<rect x="574" y="311" width="3" height="1" fill="#000"/>
<rect x="574" y="304" width="3" height="1" fill="#000"/>
<rect x="574" y="298" width="3" height="1" fill="#000"/>
<rect x="574" y="291" width="8" height="1" fill="#000"/>
<rect x="574" y="284" width="3" height="1" fill="#000"/>
<rect x="574" y="278" width="3" height="1" fill="#000"/>
<rect x="574" y="271" width="3" height="1" fill="#000"/>
<rect x="574" y="265" width="3" height="1" fill="#000"/>
<rect x="574" y="258" width="8" height="1" fill="#000"/>
<rect x="574" y="251" width="3" height="1" fill="#000"/>
<rect x="574" y="645" width="1" height="1" fill="#000"/>
<rect x="574" y="636" width="3" height="1" fill="#000"/>
<rect x="574" y="627" width="3" height="1" fill="#000"/>
<rect x="574" y="619" width="3" height="1" fill="#000"/>
<rect x="574" y="610" width="3" height="1" fill="#000"/>
<rect x="574" y="601" width="8" height="1" fill="#000"/>
<rect x="574" y="592" width="3" height="1" fill="#000"/>
<rect x="574" y="583" width="3" height="1" fill="#000"/>
<rect x="574" y="574" width="3" height="1" fill="#000"/>
<rect x="574" y="566" width="3" height="1" fill="#000"/>
<rect x="574" y="557" width="8" height="1" fill="#000"/>
<rect x="574" y="548" width="3" height="1" fill="#000"/>
<g font-family="'Liberation Sans', Arial, sans-serif" font-size="12" fill="#000" text-anchor="end" letter-spacing="0.2" shape-rendering="auto">
<text x="619.5" y="119">0</text>
<text x="619.5" y="60">50</text>
<text x="619.5" y="246">-1000</text>
<text x="619.5" y="227">-500</text>
<text x="619.5" y="209">0</text>
<text x="619.5" y="190">500</text>
<text x="619.5" y="172">1000</text>
<text x="619.5" y="153">1500</text>
<text x="619.5" y="528">25000</text>
<text x="619.5" y="495">30000</text>
<text x="619.5" y="462">35000</text>
<text x="619.5" y="429">40000</text>
<text x="619.5" y="396">45000</text>
<text x="619.5" y="363">50000</text>
<text x="619.5" y="329.4">55000</text>
<text x="619.5" y="297">60000</text>
<text x="619.5" y="264">65000</text>
<text x="619.5" y="651">0</text>
<text x="619.5" y="607">5000</text>
<text x="619.5" y="563">10000</text>
</g>
<rect x="578" y="312" width="45" height="16" fill="#000"/>
<text x="579.6" y="324.1" font-family="'Liberation Sans', Arial, sans-serif" font-size="10.67" fill="#ff0000">55500.00</text>
<rect x="575.5" y="641.5" width="33" height="14" fill="#fff" stroke="#000" stroke-width="1"/>
<text x="577.2" y="651" font-family="'Liberation Sans', Arial, sans-serif" font-size="9.3" fill="#000">x10000</text>
<rect x="574" y="654" width="49" height="16" fill="#fff"/>
<rect x="575" y="655" width="48" height="1" fill="#f8f8f8"/>
<rect x="575" y="656" width="48" height="14" fill="#f0f0f0"/>
<rect x="0" y="654" width="573" height="1" fill="#000"/>
<rect x="572" y="654" width="1" height="16" fill="#000"/>
<g font-family="'Liberation Sans', Arial, sans-serif" font-size="12" fill="#000">
<rect x="1" y="654" width="1" height="16" fill="#000"/>
<text x="3.2" y="668">Apr</text>
<rect x="27" y="654" width="1" height="16" fill="#000"/>
<text x="29.2" y="668" textLength="20.8" lengthAdjust="spacingAndGlyphs">May</text>
<rect x="58" y="654" width="1" height="16" fill="#000"/>
<text x="60.2" y="668">Jun</text>
<rect x="85" y="654" width="1" height="16" fill="#000"/>
<text x="87.2" y="668">Jul</text>
<rect x="116" y="654" width="1" height="16" fill="#000"/>
<text x="118.2" y="668">Aug</text>
<rect x="147" y="654" width="1" height="16" fill="#000"/>
<text x="149.2" y="668">Sep</text>
<rect x="173" y="654" width="1" height="16" fill="#000"/>
<text x="175.2" y="668">Oct</text>
<rect x="204" y="654" width="1" height="16" fill="#000"/>
<text x="206.2" y="668">Nov</text>
<rect x="233" y="654" width="1" height="16" fill="#000"/>
<text x="235.2" y="668">Dec</text>
<rect x="263" y="654" width="1" height="16" fill="#000"/>
<text x="265.2" y="668">2025</text>
<rect x="313" y="654" width="1" height="16" fill="#000"/>
<text x="315.2" y="668">Mar</text>
<rect x="342" y="654" width="1" height="16" fill="#000"/>
<text x="344.2" y="668">Apr</text>
<rect x="370" y="654" width="1" height="16" fill="#000"/>
<text x="372.2" y="668" textLength="20.8" lengthAdjust="spacingAndGlyphs">May</text>
<rect x="397" y="654" width="1" height="16" fill="#000"/>
<text x="399.2" y="668">Jun</text>
<rect x="426" y="654" width="1" height="16" fill="#000"/>
<text x="428.2" y="668">Jul</text>
<rect x="457" y="654" width="1" height="16" fill="#000"/>
<text x="459.2" y="668">Aug</text>
<rect x="486" y="654" width="1" height="16" fill="#000"/>
<text x="488.2" y="668">Sep</text>
<rect x="513" y="654" width="1" height="16" fill="#000"/>
<text x="515.2" y="668">Oct</text>
<rect x="545" y="654" width="1" height="16" fill="#000"/>
<text x="547.2" y="668">Nov</text>
</g>
<rect x="287" y="655" width="1" height="2" fill="#000"/>
</svg>
</body></html>
